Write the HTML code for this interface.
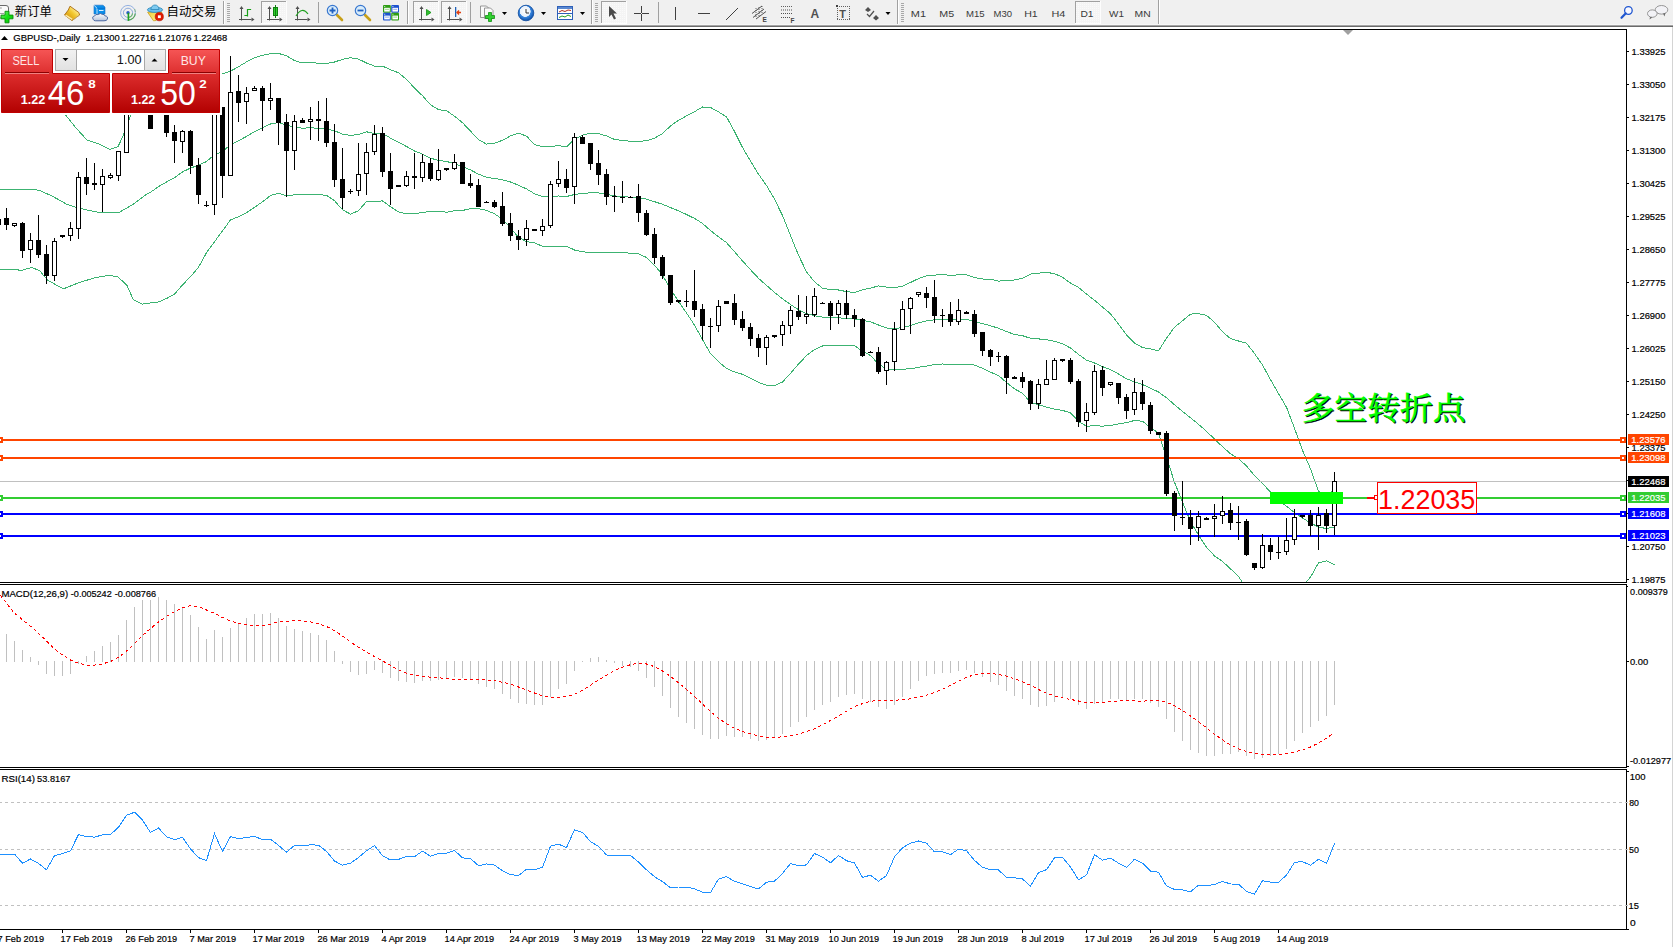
<!DOCTYPE html>
<html><head><meta charset="utf-8"><title>GBPUSD-,Daily</title>
<style>
html,body{margin:0;padding:0;width:1673px;height:947px;overflow:hidden;background:#fff}
svg{display:block}
#chart{position:absolute;left:0;top:0}
#tb{position:absolute;left:0;top:0;width:1673px;height:25px;background:#F0F0F0}
#tbl0{position:absolute;left:0;top:24px;width:1673px;height:1px;background:#F6F6F6}
#tbl1{position:absolute;left:0;top:25px;width:1673px;height:1px;background:#A4A4A4}
#tbl2{position:absolute;left:0;top:26px;width:1673px;height:1px;background:#6A6A6A}
#redge{position:absolute;left:1672px;top:27px;width:1px;height:920px;background:#D4D4D4}
</style></head><body>
<svg id="chart" width="1673" height="947" viewBox="0 0 1673 947">
<rect x="0" y="27" width="1673" height="920" fill="#fff"/>
<defs><clipPath id="cm"><rect x="0" y="30" width="1626" height="552"/></clipPath><clipPath id="cmacd"><rect x="0" y="585" width="1626" height="182"/></clipPath><clipPath id="crsi"><rect x="0" y="770" width="1626" height="159"/></clipPath></defs>
<g clip-path="url(#cm)" stroke="#3CB371" stroke-width="1" shape-rendering="crispEdges"><polyline points="40.0,80.0 52.0,95.0 60.0,106.0 66.0,115.5 76.0,128.0 87.0,140.0 100.0,144.4 110.0,149.5 118.0,146.6 123.3,135.5 131.0,114.4 140.0,95.0 150.5,81.6 158.5,71.2 166.5,65.5 174.5,61.6 182.5,58.9 190.5,59.5 198.5,63.0 206.5,71.1 214.5,68.6 222.5,73.9 230.5,71.2 238.5,66.7 246.5,61.9 254.5,57.6 262.5,55.4 270.5,53.8 278.5,53.4 286.5,55.8 294.5,60.6 302.5,62.9 310.5,62.3 318.5,63.3 326.5,63.5 334.5,62.0 342.5,59.4 350.5,57.7 358.5,59.1 366.5,63.0 374.5,66.1 382.5,66.1 390.5,69.7 398.5,72.8 406.5,79.3 414.5,88.1 422.5,95.7 430.5,104.8 438.5,109.6 446.5,110.7 454.5,116.2 462.5,122.7 470.5,131.1 478.5,139.7 486.5,144.1 494.5,143.2 502.5,140.3 510.5,135.9 518.5,133.2 526.5,136.1 534.5,144.6 542.5,146.7 550.5,146.4 558.5,145.7 566.5,146.8 574.5,139.0 582.5,135.2 590.5,133.2 598.5,133.6 606.5,135.9 614.5,139.4 622.5,140.4 630.5,141.3 638.5,141.3 646.5,140.8 654.5,138.2 662.5,133.6 670.5,125.9 678.5,120.3 686.5,115.9 694.5,111.7 702.5,107.0 710.5,107.4 718.5,111.9 726.5,116.8 734.5,131.5 742.5,147.5 750.5,161.0 758.5,174.2 766.5,185.5 774.5,199.1 782.5,215.6 790.5,235.6 798.5,255.2 806.5,271.8 814.5,281.8 822.5,288.2 830.5,289.6 838.5,290.0 846.5,291.6 854.5,292.5 862.5,289.7 870.5,288.1 878.5,285.9 886.5,287.1 894.5,287.9 902.5,286.1 910.5,282.5 918.5,278.6 926.5,275.7 934.5,275.1 942.5,274.6 950.5,275.3 958.5,274.9 966.5,274.8 974.5,277.6 982.5,279.0 990.5,279.2 998.5,281.2 1006.5,280.4 1014.5,280.0 1022.5,278.3 1030.5,274.1 1038.5,273.2 1046.5,272.4 1054.5,273.6 1062.5,277.3 1070.5,283.1 1078.5,287.4 1086.5,294.1 1094.5,300.2 1102.5,307.1 1110.5,313.8 1118.5,324.0 1126.5,335.0 1134.5,343.1 1142.5,347.6 1150.5,348.9 1158.5,350.9 1166.5,338.3 1174.5,327.2 1182.5,320.8 1190.5,314.1 1198.5,313.6 1206.5,315.3 1214.5,322.3 1222.5,331.8 1230.5,338.6 1238.5,341.0 1246.5,343.2 1254.5,353.5 1262.5,365.0 1270.5,379.6 1278.5,393.6 1286.5,407.2 1294.5,428.3 1302.5,450.4 1310.5,468.8 1318.5,491.1 1326.5,496.2 1334.5,488.9" fill="none" /><polyline points="-3.0,189.1 0.0,189.1 31.7,189.1 39.6,190.4 52.0,196.0 66.5,204.1 76.0,207.3 85.5,209.7 100.0,212.5 118.9,212.5 133.3,204.3 146.6,194.3 150.5,192.3 158.5,186.6 166.5,182.0 174.5,177.8 182.5,171.9 190.5,168.1 198.5,165.1 206.5,161.6 214.5,154.6 222.5,151.5 230.5,144.7 238.5,140.9 246.5,136.4 254.5,131.7 262.5,127.8 270.5,124.0 278.5,122.5 286.5,125.1 294.5,127.1 302.5,128.2 310.5,127.8 318.5,128.3 326.5,128.8 334.5,130.8 342.5,134.1 350.5,135.5 358.5,134.5 366.5,131.8 374.5,133.5 382.5,133.3 390.5,138.1 398.5,142.3 406.5,146.5 414.5,151.0 422.5,154.1 430.5,158.1 438.5,160.5 446.5,161.5 454.5,163.5 462.5,166.6 470.5,169.9 478.5,174.2 486.5,177.2 494.5,178.5 502.5,179.8 510.5,182.0 518.5,185.2 526.5,188.9 534.5,193.7 542.5,196.5 550.5,196.3 558.5,196.0 566.5,196.5 574.5,194.5 582.5,193.5 590.5,192.8 598.5,192.9 606.5,194.2 614.5,195.9 622.5,196.6 630.5,197.2 638.5,197.5 646.5,199.1 654.5,201.7 662.5,204.3 670.5,207.6 678.5,210.8 686.5,214.5 694.5,218.4 702.5,223.4 710.5,230.5 718.5,236.8 726.5,242.6 734.5,251.7 742.5,260.9 750.5,269.7 758.5,278.3 766.5,285.4 774.5,292.4 782.5,298.8 790.5,304.5 798.5,309.7 806.5,313.7 814.5,315.7 822.5,317.1 830.5,317.7 838.5,317.8 846.5,318.5 854.5,319.0 862.5,320.5 870.5,321.8 878.5,325.0 886.5,328.0 894.5,328.5 902.5,327.6 910.5,325.6 918.5,322.9 926.5,320.9 934.5,319.8 942.5,319.3 950.5,319.8 958.5,319.6 966.5,319.5 974.5,321.3 982.5,323.7 990.5,325.7 998.5,328.3 1006.5,331.5 1014.5,334.5 1022.5,335.7 1030.5,338.3 1038.5,338.9 1046.5,339.8 1054.5,341.3 1062.5,343.8 1070.5,348.0 1078.5,354.4 1086.5,360.2 1094.5,363.0 1102.5,366.6 1110.5,369.7 1118.5,374.0 1126.5,378.8 1134.5,381.8 1142.5,384.5 1150.5,388.2 1158.5,392.0 1166.5,397.8 1174.5,404.7 1182.5,411.5 1190.5,417.7 1198.5,424.3 1206.5,431.3 1214.5,439.1 1222.5,446.7 1230.5,453.7 1238.5,458.7 1246.5,465.9 1254.5,475.6 1262.5,483.6 1270.5,492.0 1278.5,499.8 1286.5,506.3 1294.5,512.5 1302.5,518.1 1310.5,522.9 1318.5,527.0 1326.5,528.6 1334.5,526.9" fill="none" /><polyline points="-3.0,269.0 0.0,269.0 22.2,270.2 31.7,267.5 39.6,270.6 47.5,280.1 63.3,288.9 79.2,282.5 95.0,277.8 108.9,275.3 117.8,276.9 126.7,284.9 133.3,299.7 142.2,304.1 150.5,303.0 158.5,302.0 166.5,298.5 174.5,294.1 182.5,284.9 190.5,276.7 198.5,267.3 206.5,252.7 214.5,241.7 222.5,231.0 230.5,219.9 238.5,216.8 246.5,212.6 254.5,207.3 262.5,201.8 270.5,195.6 278.5,193.1 286.5,195.7 294.5,194.9 302.5,194.8 310.5,194.5 318.5,194.6 326.5,195.3 334.5,200.7 342.5,209.8 350.5,214.1 358.5,210.7 366.5,201.5 374.5,201.6 382.5,200.9 390.5,206.8 398.5,211.9 406.5,213.7 414.5,213.8 422.5,212.5 430.5,211.3 438.5,211.3 446.5,212.2 454.5,210.8 462.5,210.5 470.5,208.6 478.5,208.6 486.5,210.3 494.5,213.8 502.5,219.2 510.5,228.0 518.5,237.2 526.5,241.7 534.5,242.9 542.5,246.3 550.5,246.3 558.5,246.3 566.5,246.2 574.5,250.0 582.5,251.9 590.5,252.3 598.5,252.2 606.5,252.6 614.5,252.4 622.5,252.8 630.5,253.1 638.5,253.7 646.5,257.5 654.5,265.2 662.5,274.9 670.5,289.4 678.5,301.3 686.5,313.0 694.5,325.1 702.5,339.7 710.5,353.5 718.5,361.7 726.5,368.5 734.5,371.9 742.5,374.3 750.5,378.3 758.5,382.4 766.5,385.3 774.5,385.7 782.5,382.0 790.5,373.4 798.5,364.1 806.5,355.6 814.5,349.5 822.5,346.0 830.5,345.8 838.5,345.7 846.5,345.4 854.5,345.5 862.5,351.3 870.5,355.5 878.5,364.1 886.5,368.9 894.5,369.2 902.5,369.2 910.5,368.8 918.5,367.3 926.5,366.1 934.5,364.6 942.5,364.0 950.5,364.4 958.5,364.2 966.5,364.2 974.5,365.1 982.5,368.3 990.5,372.2 998.5,375.5 1006.5,382.5 1014.5,388.9 1022.5,393.2 1030.5,402.4 1038.5,404.7 1046.5,407.1 1054.5,409.1 1062.5,410.4 1070.5,412.9 1078.5,421.4 1086.5,426.2 1094.5,425.8 1102.5,426.1 1110.5,425.6 1118.5,423.9 1126.5,422.6 1134.5,420.5 1142.5,421.3 1150.5,427.5 1158.5,433.2 1166.5,457.4 1174.5,482.2 1182.5,502.2 1190.5,521.4 1198.5,535.1 1206.5,547.2 1214.5,555.9 1222.5,561.5 1230.5,568.8 1238.5,576.5 1246.5,588.5 1254.5,597.8 1262.5,602.1 1270.5,604.4 1278.5,606.0 1286.5,605.4 1294.5,596.7 1302.5,585.9 1310.5,577.1 1318.5,562.9 1326.5,560.9 1334.5,564.9" fill="none" /></g>
<rect x="0" y="481" width="1626" height="1" fill="#C0C0C0"/>
<rect x="0" y="439" width="1627" height="2" fill="#FF4500"/>
<rect x="1620" y="437" width="6" height="6" fill="#FF4500"/><rect x="1622" y="439" width="2" height="2" fill="#fff"/>
<rect x="-3" y="437" width="6" height="6" fill="#FF4500"/><rect x="-1" y="439" width="2" height="2" fill="#fff"/>
<rect x="0" y="457" width="1627" height="2" fill="#FF4500"/>
<rect x="1620" y="455" width="6" height="6" fill="#FF4500"/><rect x="1622" y="457" width="2" height="2" fill="#fff"/>
<rect x="-3" y="455" width="6" height="6" fill="#FF4500"/><rect x="-1" y="457" width="2" height="2" fill="#fff"/>
<rect x="0" y="497" width="1627" height="2" fill="#32CD32"/>
<rect x="1620" y="495" width="6" height="6" fill="#32CD32"/><rect x="1622" y="497" width="2" height="2" fill="#fff"/>
<rect x="-3" y="495" width="6" height="6" fill="#32CD32"/><rect x="-1" y="497" width="2" height="2" fill="#fff"/>
<rect x="0" y="513" width="1627" height="2" fill="#0000FF"/>
<rect x="1620" y="511" width="6" height="6" fill="#0000FF"/><rect x="1622" y="513" width="2" height="2" fill="#fff"/>
<rect x="-3" y="511" width="6" height="6" fill="#0000FF"/><rect x="-1" y="513" width="2" height="2" fill="#fff"/>
<rect x="0" y="535" width="1627" height="2" fill="#0000FF"/>
<rect x="1620" y="533" width="6" height="6" fill="#0000FF"/><rect x="1622" y="535" width="2" height="2" fill="#fff"/>
<rect x="-3" y="533" width="6" height="6" fill="#0000FF"/><rect x="-1" y="535" width="2" height="2" fill="#fff"/>
<g clip-path="url(#cm)" shape-rendering="crispEdges"><rect x="-2" y="214" width="1" height="14" fill="#000"/><rect x="-4" y="219" width="5" height="6" fill="#000"/><rect x="6" y="208" width="1" height="22" fill="#000"/><rect x="4" y="218" width="5" height="7" fill="#000"/><rect x="14" y="226" width="1" height="1" fill="#000"/><rect x="12" y="223" width="5" height="3" fill="#000"/><rect x="13" y="224" width="3" height="1" fill="#fff"/><rect x="22" y="222" width="1" height="36" fill="#000"/><rect x="20" y="223" width="5" height="28" fill="#000"/><rect x="30" y="233" width="1" height="7" fill="#000"/><rect x="30" y="250" width="1" height="13" fill="#000"/><rect x="28" y="240" width="5" height="10" fill="#000"/><rect x="29" y="241" width="3" height="8" fill="#fff"/><rect x="38" y="215" width="1" height="43" fill="#000"/><rect x="36" y="240" width="5" height="15" fill="#000"/><rect x="46" y="245" width="1" height="39" fill="#000"/><rect x="44" y="254" width="5" height="22" fill="#000"/><rect x="54" y="238" width="1" height="3" fill="#000"/><rect x="54" y="276" width="1" height="5" fill="#000"/><rect x="52" y="241" width="5" height="35" fill="#000"/><rect x="53" y="242" width="3" height="33" fill="#fff"/><rect x="62" y="235" width="1" height="3" fill="#000"/><rect x="60" y="235" width="5" height="2" fill="#000"/><rect x="70" y="222" width="1" height="6" fill="#000"/><rect x="70" y="236" width="1" height="5" fill="#000"/><rect x="68" y="228" width="5" height="8" fill="#000"/><rect x="69" y="229" width="3" height="6" fill="#fff"/><rect x="78" y="172" width="1" height="5" fill="#000"/><rect x="78" y="229" width="1" height="10" fill="#000"/><rect x="76" y="177" width="5" height="52" fill="#000"/><rect x="77" y="178" width="3" height="50" fill="#fff"/><rect x="86" y="158" width="1" height="37" fill="#000"/><rect x="84" y="177" width="5" height="7" fill="#000"/><rect x="94" y="163" width="1" height="27" fill="#000"/><rect x="92" y="183" width="5" height="2" fill="#000"/><rect x="102" y="169" width="1" height="7" fill="#000"/><rect x="102" y="185" width="1" height="27" fill="#000"/><rect x="100" y="176" width="5" height="9" fill="#000"/><rect x="101" y="177" width="3" height="7" fill="#fff"/><rect x="110" y="173" width="1" height="2" fill="#000"/><rect x="110" y="178" width="1" height="1" fill="#000"/><rect x="108" y="175" width="5" height="3" fill="#000"/><rect x="109" y="176" width="3" height="1" fill="#fff"/><rect x="118" y="176" width="1" height="5" fill="#000"/><rect x="116" y="151" width="5" height="25" fill="#000"/><rect x="117" y="152" width="3" height="23" fill="#fff"/><rect x="126" y="95" width="1" height="4" fill="#000"/><rect x="124" y="99" width="5" height="54" fill="#000"/><rect x="125" y="100" width="3" height="52" fill="#fff"/><rect x="134" y="78" width="1" height="4" fill="#000"/><rect x="134" y="99" width="1" height="1" fill="#000"/><rect x="132" y="82" width="5" height="17" fill="#000"/><rect x="133" y="83" width="3" height="15" fill="#fff"/><rect x="142" y="79" width="1" height="23" fill="#000"/><rect x="140" y="82" width="5" height="18" fill="#000"/><rect x="150" y="97" width="1" height="32" fill="#000"/><rect x="148" y="100" width="5" height="29" fill="#000"/><rect x="158" y="100" width="1" height="9" fill="#000"/><rect x="158" y="113" width="1" height="1" fill="#000"/><rect x="156" y="109" width="5" height="4" fill="#000"/><rect x="157" y="110" width="3" height="2" fill="#fff"/><rect x="166" y="104" width="1" height="33" fill="#000"/><rect x="164" y="109" width="5" height="24" fill="#000"/><rect x="174" y="125" width="1" height="38" fill="#000"/><rect x="172" y="132" width="5" height="9" fill="#000"/><rect x="182" y="130" width="1" height="1" fill="#000"/><rect x="182" y="142" width="1" height="11" fill="#000"/><rect x="180" y="131" width="5" height="11" fill="#000"/><rect x="181" y="132" width="3" height="9" fill="#fff"/><rect x="190" y="130" width="1" height="44" fill="#000"/><rect x="188" y="131" width="5" height="35" fill="#000"/><rect x="198" y="158" width="1" height="46" fill="#000"/><rect x="196" y="165" width="5" height="30" fill="#000"/><rect x="206" y="201" width="1" height="6" fill="#000"/><rect x="204" y="205" width="5" height="1" fill="#000"/><rect x="214" y="205" width="1" height="10" fill="#000"/><rect x="212" y="100" width="5" height="105" fill="#000"/><rect x="213" y="101" width="3" height="103" fill="#fff"/><rect x="222" y="107" width="1" height="91" fill="#000"/><rect x="220" y="107" width="5" height="69" fill="#000"/><rect x="230" y="56" width="1" height="36" fill="#000"/><rect x="228" y="92" width="5" height="84" fill="#000"/><rect x="229" y="93" width="3" height="82" fill="#fff"/><rect x="238" y="75" width="1" height="47" fill="#000"/><rect x="236" y="91" width="5" height="12" fill="#000"/><rect x="246" y="87" width="1" height="6" fill="#000"/><rect x="246" y="102" width="1" height="22" fill="#000"/><rect x="244" y="93" width="5" height="9" fill="#000"/><rect x="245" y="94" width="3" height="7" fill="#fff"/><rect x="254" y="86" width="1" height="2" fill="#000"/><rect x="252" y="88" width="5" height="3" fill="#000"/><rect x="253" y="89" width="3" height="1" fill="#fff"/><rect x="262" y="86" width="1" height="45" fill="#000"/><rect x="260" y="88" width="5" height="13" fill="#000"/><rect x="270" y="83" width="1" height="15" fill="#000"/><rect x="270" y="101" width="1" height="9" fill="#000"/><rect x="268" y="98" width="5" height="3" fill="#000"/><rect x="269" y="99" width="3" height="1" fill="#fff"/><rect x="278" y="98" width="1" height="47" fill="#000"/><rect x="276" y="98" width="5" height="25" fill="#000"/><rect x="286" y="114" width="1" height="83" fill="#000"/><rect x="284" y="122" width="5" height="29" fill="#000"/><rect x="294" y="115" width="1" height="6" fill="#000"/><rect x="294" y="151" width="1" height="19" fill="#000"/><rect x="292" y="121" width="5" height="30" fill="#000"/><rect x="293" y="122" width="3" height="28" fill="#fff"/><rect x="302" y="118" width="1" height="5" fill="#000"/><rect x="300" y="120" width="5" height="3" fill="#000"/><rect x="310" y="107" width="1" height="12" fill="#000"/><rect x="310" y="122" width="1" height="18" fill="#000"/><rect x="308" y="119" width="5" height="3" fill="#000"/><rect x="309" y="120" width="3" height="1" fill="#fff"/><rect x="318" y="101" width="1" height="40" fill="#000"/><rect x="316" y="119" width="5" height="2" fill="#000"/><rect x="326" y="98" width="1" height="49" fill="#000"/><rect x="324" y="121" width="5" height="22" fill="#000"/><rect x="334" y="124" width="1" height="63" fill="#000"/><rect x="332" y="142" width="5" height="38" fill="#000"/><rect x="342" y="148" width="1" height="61" fill="#000"/><rect x="340" y="179" width="5" height="19" fill="#000"/><rect x="350" y="189" width="1" height="5" fill="#000"/><rect x="348" y="191" width="5" height="1" fill="#000"/><rect x="358" y="143" width="1" height="31" fill="#000"/><rect x="358" y="191" width="1" height="5" fill="#000"/><rect x="356" y="174" width="5" height="17" fill="#000"/><rect x="357" y="175" width="3" height="15" fill="#fff"/><rect x="366" y="143" width="1" height="9" fill="#000"/><rect x="366" y="174" width="1" height="21" fill="#000"/><rect x="364" y="152" width="5" height="22" fill="#000"/><rect x="365" y="153" width="3" height="20" fill="#fff"/><rect x="374" y="125" width="1" height="9" fill="#000"/><rect x="374" y="152" width="1" height="3" fill="#000"/><rect x="372" y="134" width="5" height="18" fill="#000"/><rect x="373" y="135" width="3" height="16" fill="#fff"/><rect x="382" y="127" width="1" height="50" fill="#000"/><rect x="380" y="133" width="5" height="39" fill="#000"/><rect x="390" y="153" width="1" height="52" fill="#000"/><rect x="388" y="171" width="5" height="18" fill="#000"/><rect x="398" y="185" width="1" height="2" fill="#000"/><rect x="396" y="185" width="5" height="2" fill="#000"/><rect x="406" y="171" width="1" height="5" fill="#000"/><rect x="406" y="186" width="1" height="1" fill="#000"/><rect x="404" y="176" width="5" height="10" fill="#000"/><rect x="405" y="177" width="3" height="8" fill="#fff"/><rect x="414" y="153" width="1" height="36" fill="#000"/><rect x="412" y="176" width="5" height="2" fill="#000"/><rect x="422" y="154" width="1" height="8" fill="#000"/><rect x="422" y="178" width="1" height="4" fill="#000"/><rect x="420" y="162" width="5" height="16" fill="#000"/><rect x="421" y="163" width="3" height="14" fill="#fff"/><rect x="430" y="158" width="1" height="23" fill="#000"/><rect x="428" y="163" width="5" height="16" fill="#000"/><rect x="438" y="149" width="1" height="21" fill="#000"/><rect x="438" y="180" width="1" height="1" fill="#000"/><rect x="436" y="170" width="5" height="10" fill="#000"/><rect x="437" y="171" width="3" height="8" fill="#fff"/><rect x="446" y="168" width="1" height="3" fill="#000"/><rect x="444" y="168" width="5" height="2" fill="#000"/><rect x="454" y="154" width="1" height="8" fill="#000"/><rect x="454" y="169" width="1" height="1" fill="#000"/><rect x="452" y="162" width="5" height="7" fill="#000"/><rect x="453" y="163" width="3" height="5" fill="#fff"/><rect x="462" y="162" width="1" height="22" fill="#000"/><rect x="460" y="162" width="5" height="22" fill="#000"/><rect x="470" y="174" width="1" height="14" fill="#000"/><rect x="468" y="183" width="5" height="3" fill="#000"/><rect x="478" y="179" width="1" height="28" fill="#000"/><rect x="476" y="185" width="5" height="22" fill="#000"/><rect x="486" y="201" width="1" height="2" fill="#000"/><rect x="484" y="202" width="5" height="1" fill="#000"/><rect x="494" y="200" width="1" height="8" fill="#000"/><rect x="492" y="202" width="5" height="5" fill="#000"/><rect x="502" y="192" width="1" height="34" fill="#000"/><rect x="500" y="206" width="5" height="18" fill="#000"/><rect x="510" y="213" width="1" height="28" fill="#000"/><rect x="508" y="223" width="5" height="13" fill="#000"/><rect x="518" y="230" width="1" height="20" fill="#000"/><rect x="516" y="236" width="5" height="4" fill="#000"/><rect x="526" y="220" width="1" height="8" fill="#000"/><rect x="526" y="240" width="1" height="6" fill="#000"/><rect x="524" y="228" width="5" height="12" fill="#000"/><rect x="525" y="229" width="3" height="10" fill="#fff"/><rect x="534" y="229" width="1" height="2" fill="#000"/><rect x="532" y="229" width="5" height="2" fill="#000"/><rect x="542" y="219" width="1" height="7" fill="#000"/><rect x="542" y="231" width="1" height="5" fill="#000"/><rect x="540" y="226" width="5" height="5" fill="#000"/><rect x="541" y="227" width="3" height="3" fill="#fff"/><rect x="550" y="181" width="1" height="3" fill="#000"/><rect x="550" y="226" width="1" height="2" fill="#000"/><rect x="548" y="184" width="5" height="42" fill="#000"/><rect x="549" y="185" width="3" height="40" fill="#fff"/><rect x="558" y="161" width="1" height="18" fill="#000"/><rect x="558" y="184" width="1" height="3" fill="#000"/><rect x="556" y="179" width="5" height="5" fill="#000"/><rect x="557" y="180" width="3" height="3" fill="#fff"/><rect x="566" y="169" width="1" height="24" fill="#000"/><rect x="564" y="179" width="5" height="9" fill="#000"/><rect x="574" y="133" width="1" height="4" fill="#000"/><rect x="574" y="187" width="1" height="17" fill="#000"/><rect x="572" y="137" width="5" height="50" fill="#000"/><rect x="573" y="138" width="3" height="48" fill="#fff"/><rect x="582" y="135" width="1" height="9" fill="#000"/><rect x="580" y="137" width="5" height="7" fill="#000"/><rect x="590" y="143" width="1" height="27" fill="#000"/><rect x="588" y="143" width="5" height="21" fill="#000"/><rect x="598" y="150" width="1" height="35" fill="#000"/><rect x="596" y="163" width="5" height="12" fill="#000"/><rect x="606" y="169" width="1" height="36" fill="#000"/><rect x="604" y="174" width="5" height="23" fill="#000"/><rect x="614" y="186" width="1" height="26" fill="#000"/><rect x="612" y="196" width="5" height="1" fill="#000"/><rect x="622" y="181" width="1" height="22" fill="#000"/><rect x="620" y="197" width="5" height="1" fill="#000"/><rect x="630" y="196" width="1" height="2" fill="#000"/><rect x="628" y="197" width="5" height="1" fill="#000"/><rect x="638" y="184" width="1" height="38" fill="#000"/><rect x="636" y="196" width="5" height="17" fill="#000"/><rect x="646" y="210" width="1" height="26" fill="#000"/><rect x="644" y="213" width="5" height="22" fill="#000"/><rect x="654" y="228" width="1" height="36" fill="#000"/><rect x="652" y="234" width="5" height="24" fill="#000"/><rect x="662" y="255" width="1" height="24" fill="#000"/><rect x="660" y="257" width="5" height="19" fill="#000"/><rect x="670" y="275" width="1" height="30" fill="#000"/><rect x="668" y="275" width="5" height="28" fill="#000"/><rect x="678" y="300" width="1" height="3" fill="#000"/><rect x="676" y="300" width="5" height="2" fill="#000"/><rect x="686" y="290" width="1" height="17" fill="#000"/><rect x="684" y="301" width="5" height="1" fill="#000"/><rect x="694" y="270" width="1" height="47" fill="#000"/><rect x="692" y="301" width="5" height="9" fill="#000"/><rect x="702" y="304" width="1" height="36" fill="#000"/><rect x="700" y="309" width="5" height="17" fill="#000"/><rect x="710" y="318" width="1" height="30" fill="#000"/><rect x="708" y="326" width="5" height="1" fill="#000"/><rect x="718" y="300" width="1" height="6" fill="#000"/><rect x="718" y="326" width="1" height="6" fill="#000"/><rect x="716" y="306" width="5" height="20" fill="#000"/><rect x="717" y="307" width="3" height="18" fill="#fff"/><rect x="726" y="301" width="1" height="3" fill="#000"/><rect x="724" y="301" width="5" height="3" fill="#000"/><rect x="734" y="294" width="1" height="31" fill="#000"/><rect x="732" y="303" width="5" height="17" fill="#000"/><rect x="742" y="311" width="1" height="20" fill="#000"/><rect x="740" y="319" width="5" height="9" fill="#000"/><rect x="750" y="323" width="1" height="23" fill="#000"/><rect x="748" y="327" width="5" height="12" fill="#000"/><rect x="758" y="334" width="1" height="23" fill="#000"/><rect x="756" y="338" width="5" height="10" fill="#000"/><rect x="766" y="335" width="1" height="2" fill="#000"/><rect x="766" y="348" width="1" height="17" fill="#000"/><rect x="764" y="337" width="5" height="11" fill="#000"/><rect x="765" y="338" width="3" height="9" fill="#fff"/><rect x="774" y="335" width="1" height="3" fill="#000"/><rect x="772" y="335" width="5" height="2" fill="#000"/><rect x="782" y="321" width="1" height="4" fill="#000"/><rect x="782" y="335" width="1" height="11" fill="#000"/><rect x="780" y="325" width="5" height="10" fill="#000"/><rect x="781" y="326" width="3" height="8" fill="#fff"/><rect x="790" y="306" width="1" height="4" fill="#000"/><rect x="790" y="326" width="1" height="8" fill="#000"/><rect x="788" y="310" width="5" height="16" fill="#000"/><rect x="789" y="311" width="3" height="14" fill="#fff"/><rect x="798" y="295" width="1" height="25" fill="#000"/><rect x="796" y="311" width="5" height="6" fill="#000"/><rect x="806" y="296" width="1" height="18" fill="#000"/><rect x="806" y="317" width="1" height="7" fill="#000"/><rect x="804" y="314" width="5" height="3" fill="#000"/><rect x="805" y="315" width="3" height="1" fill="#fff"/><rect x="814" y="288" width="1" height="8" fill="#000"/><rect x="814" y="315" width="1" height="2" fill="#000"/><rect x="812" y="296" width="5" height="19" fill="#000"/><rect x="813" y="297" width="3" height="17" fill="#fff"/><rect x="822" y="302" width="1" height="2" fill="#000"/><rect x="820" y="303" width="5" height="1" fill="#000"/><rect x="830" y="301" width="1" height="29" fill="#000"/><rect x="828" y="303" width="5" height="13" fill="#000"/><rect x="838" y="300" width="1" height="3" fill="#000"/><rect x="838" y="315" width="1" height="9" fill="#000"/><rect x="836" y="303" width="5" height="12" fill="#000"/><rect x="837" y="304" width="3" height="10" fill="#fff"/><rect x="846" y="290" width="1" height="29" fill="#000"/><rect x="844" y="303" width="5" height="12" fill="#000"/><rect x="854" y="309" width="1" height="18" fill="#000"/><rect x="852" y="315" width="5" height="4" fill="#000"/><rect x="862" y="318" width="1" height="39" fill="#000"/><rect x="860" y="319" width="5" height="37" fill="#000"/><rect x="870" y="351" width="1" height="2" fill="#000"/><rect x="868" y="352" width="5" height="1" fill="#000"/><rect x="878" y="347" width="1" height="27" fill="#000"/><rect x="876" y="352" width="5" height="20" fill="#000"/><rect x="886" y="361" width="1" height="1" fill="#000"/><rect x="886" y="371" width="1" height="14" fill="#000"/><rect x="884" y="362" width="5" height="9" fill="#000"/><rect x="885" y="363" width="3" height="7" fill="#fff"/><rect x="894" y="322" width="1" height="7" fill="#000"/><rect x="894" y="362" width="1" height="9" fill="#000"/><rect x="892" y="329" width="5" height="33" fill="#000"/><rect x="893" y="330" width="3" height="31" fill="#fff"/><rect x="902" y="301" width="1" height="8" fill="#000"/><rect x="900" y="309" width="5" height="21" fill="#000"/><rect x="901" y="310" width="3" height="19" fill="#fff"/><rect x="910" y="297" width="1" height="1" fill="#000"/><rect x="910" y="309" width="1" height="25" fill="#000"/><rect x="908" y="298" width="5" height="11" fill="#000"/><rect x="909" y="299" width="3" height="9" fill="#fff"/><rect x="918" y="295" width="1" height="2" fill="#000"/><rect x="916" y="292" width="5" height="3" fill="#000"/><rect x="917" y="293" width="3" height="1" fill="#fff"/><rect x="926" y="287" width="1" height="21" fill="#000"/><rect x="924" y="293" width="5" height="5" fill="#000"/><rect x="934" y="280" width="1" height="43" fill="#000"/><rect x="932" y="297" width="5" height="19" fill="#000"/><rect x="942" y="309" width="1" height="18" fill="#000"/><rect x="940" y="315" width="5" height="1" fill="#000"/><rect x="950" y="302" width="1" height="24" fill="#000"/><rect x="948" y="314" width="5" height="8" fill="#000"/><rect x="958" y="299" width="1" height="11" fill="#000"/><rect x="958" y="322" width="1" height="3" fill="#000"/><rect x="956" y="310" width="5" height="12" fill="#000"/><rect x="957" y="311" width="3" height="10" fill="#fff"/><rect x="966" y="311" width="1" height="3" fill="#000"/><rect x="964" y="312" width="5" height="2" fill="#000"/><rect x="974" y="310" width="1" height="27" fill="#000"/><rect x="972" y="314" width="5" height="20" fill="#000"/><rect x="982" y="332" width="1" height="24" fill="#000"/><rect x="980" y="332" width="5" height="19" fill="#000"/><rect x="990" y="349" width="1" height="17" fill="#000"/><rect x="988" y="350" width="5" height="7" fill="#000"/><rect x="998" y="352" width="1" height="10" fill="#000"/><rect x="996" y="356" width="5" height="1" fill="#000"/><rect x="1006" y="355" width="1" height="39" fill="#000"/><rect x="1004" y="356" width="5" height="22" fill="#000"/><rect x="1014" y="376" width="1" height="3" fill="#000"/><rect x="1012" y="377" width="5" height="2" fill="#000"/><rect x="1022" y="372" width="1" height="16" fill="#000"/><rect x="1020" y="377" width="5" height="5" fill="#000"/><rect x="1030" y="380" width="1" height="30" fill="#000"/><rect x="1028" y="381" width="5" height="23" fill="#000"/><rect x="1038" y="379" width="1" height="5" fill="#000"/><rect x="1038" y="404" width="1" height="5" fill="#000"/><rect x="1036" y="384" width="5" height="20" fill="#000"/><rect x="1037" y="385" width="3" height="18" fill="#fff"/><rect x="1046" y="360" width="1" height="19" fill="#000"/><rect x="1044" y="379" width="5" height="6" fill="#000"/><rect x="1045" y="380" width="3" height="4" fill="#fff"/><rect x="1054" y="358" width="1" height="2" fill="#000"/><rect x="1052" y="360" width="5" height="20" fill="#000"/><rect x="1053" y="361" width="3" height="18" fill="#fff"/><rect x="1062" y="359" width="1" height="3" fill="#000"/><rect x="1060" y="359" width="5" height="2" fill="#000"/><rect x="1070" y="358" width="1" height="26" fill="#000"/><rect x="1068" y="360" width="5" height="22" fill="#000"/><rect x="1078" y="379" width="1" height="48" fill="#000"/><rect x="1076" y="381" width="5" height="41" fill="#000"/><rect x="1086" y="403" width="1" height="9" fill="#000"/><rect x="1086" y="421" width="1" height="11" fill="#000"/><rect x="1084" y="412" width="5" height="9" fill="#000"/><rect x="1085" y="413" width="3" height="7" fill="#fff"/><rect x="1094" y="365" width="1" height="6" fill="#000"/><rect x="1094" y="413" width="1" height="2" fill="#000"/><rect x="1092" y="371" width="5" height="42" fill="#000"/><rect x="1093" y="372" width="3" height="40" fill="#fff"/><rect x="1102" y="366" width="1" height="30" fill="#000"/><rect x="1100" y="370" width="5" height="18" fill="#000"/><rect x="1110" y="385" width="1" height="1" fill="#000"/><rect x="1108" y="382" width="5" height="3" fill="#000"/><rect x="1109" y="383" width="3" height="1" fill="#fff"/><rect x="1118" y="383" width="1" height="21" fill="#000"/><rect x="1116" y="383" width="5" height="15" fill="#000"/><rect x="1126" y="394" width="1" height="25" fill="#000"/><rect x="1124" y="397" width="5" height="14" fill="#000"/><rect x="1134" y="378" width="1" height="14" fill="#000"/><rect x="1134" y="410" width="1" height="5" fill="#000"/><rect x="1132" y="392" width="5" height="18" fill="#000"/><rect x="1133" y="393" width="3" height="16" fill="#fff"/><rect x="1142" y="380" width="1" height="30" fill="#000"/><rect x="1140" y="392" width="5" height="12" fill="#000"/><rect x="1150" y="402" width="1" height="32" fill="#000"/><rect x="1148" y="405" width="5" height="26" fill="#000"/><rect x="1158" y="432" width="1" height="3" fill="#000"/><rect x="1156" y="432" width="5" height="3" fill="#000"/><rect x="1166" y="431" width="1" height="65" fill="#000"/><rect x="1164" y="433" width="5" height="61" fill="#000"/><rect x="1174" y="491" width="1" height="40" fill="#000"/><rect x="1172" y="493" width="5" height="23" fill="#000"/><rect x="1182" y="481" width="1" height="44" fill="#000"/><rect x="1180" y="517" width="5" height="1" fill="#000"/><rect x="1190" y="510" width="1" height="35" fill="#000"/><rect x="1188" y="517" width="5" height="12" fill="#000"/><rect x="1198" y="511" width="1" height="5" fill="#000"/><rect x="1198" y="528" width="1" height="13" fill="#000"/><rect x="1196" y="516" width="5" height="12" fill="#000"/><rect x="1197" y="517" width="3" height="10" fill="#fff"/><rect x="1206" y="517" width="1" height="3" fill="#000"/><rect x="1204" y="518" width="5" height="2" fill="#000"/><rect x="1214" y="504" width="1" height="12" fill="#000"/><rect x="1214" y="519" width="1" height="18" fill="#000"/><rect x="1212" y="516" width="5" height="3" fill="#000"/><rect x="1213" y="517" width="3" height="1" fill="#fff"/><rect x="1222" y="496" width="1" height="15" fill="#000"/><rect x="1222" y="516" width="1" height="8" fill="#000"/><rect x="1220" y="511" width="5" height="5" fill="#000"/><rect x="1221" y="512" width="3" height="3" fill="#fff"/><rect x="1230" y="503" width="1" height="27" fill="#000"/><rect x="1228" y="510" width="5" height="13" fill="#000"/><rect x="1238" y="506" width="1" height="34" fill="#000"/><rect x="1236" y="522" width="5" height="1" fill="#000"/><rect x="1246" y="519" width="1" height="37" fill="#000"/><rect x="1244" y="521" width="5" height="34" fill="#000"/><rect x="1254" y="563" width="1" height="7" fill="#000"/><rect x="1252" y="563" width="5" height="5" fill="#000"/><rect x="1262" y="534" width="1" height="11" fill="#000"/><rect x="1262" y="568" width="1" height="1" fill="#000"/><rect x="1260" y="545" width="5" height="23" fill="#000"/><rect x="1261" y="546" width="3" height="21" fill="#fff"/><rect x="1270" y="538" width="1" height="22" fill="#000"/><rect x="1268" y="545" width="5" height="7" fill="#000"/><rect x="1278" y="537" width="1" height="22" fill="#000"/><rect x="1276" y="552" width="5" height="1" fill="#000"/><rect x="1286" y="518" width="1" height="22" fill="#000"/><rect x="1286" y="552" width="1" height="3" fill="#000"/><rect x="1284" y="540" width="5" height="12" fill="#000"/><rect x="1285" y="541" width="3" height="10" fill="#fff"/><rect x="1294" y="509" width="1" height="8" fill="#000"/><rect x="1294" y="540" width="1" height="5" fill="#000"/><rect x="1292" y="517" width="5" height="23" fill="#000"/><rect x="1293" y="518" width="3" height="21" fill="#fff"/><rect x="1302" y="515" width="1" height="3" fill="#000"/><rect x="1300" y="515" width="5" height="2" fill="#000"/><rect x="1310" y="510" width="1" height="26" fill="#000"/><rect x="1308" y="515" width="5" height="11" fill="#000"/><rect x="1318" y="507" width="1" height="8" fill="#000"/><rect x="1318" y="526" width="1" height="24" fill="#000"/><rect x="1316" y="515" width="5" height="11" fill="#000"/><rect x="1317" y="516" width="3" height="9" fill="#fff"/><rect x="1326" y="509" width="1" height="24" fill="#000"/><rect x="1324" y="513" width="5" height="13" fill="#000"/><rect x="1334" y="472" width="1" height="9" fill="#000"/><rect x="1334" y="526" width="1" height="9" fill="#000"/><rect x="1332" y="481" width="5" height="45" fill="#000"/><rect x="1333" y="482" width="3" height="43" fill="#fff"/></g>
<rect x="1270" y="492" width="73" height="12" fill="#00FF00"/>
<g shape-rendering="crispEdges" fill="#000"><rect x="0" y="29" width="1627" height="1"/><rect x="0" y="582" width="1627" height="1"/><rect x="0" y="584" width="1627" height="1"/><rect x="0" y="767" width="1627" height="1"/><rect x="0" y="769" width="1627" height="1"/><rect x="0" y="929" width="1627" height="1"/><rect x="1626" y="29" width="1" height="554"/><rect x="1626" y="584" width="1" height="184"/><rect x="1626" y="769" width="1" height="161"/></g>
<g fill="#000"><rect x="1627" y="51" width="2" height="1"/><text x="1631.54" y="55" font-size="9.8" fill="#000" textLength="34.07" lengthAdjust="spacingAndGlyphs" style="font-family:'Liberation Sans',Arial,sans-serif"  stroke="#000" stroke-width="0.2">1.33925</text><rect x="1627" y="84" width="2" height="1"/><text x="1631.54" y="88" font-size="9.8" fill="#000" textLength="34.07" lengthAdjust="spacingAndGlyphs" style="font-family:'Liberation Sans',Arial,sans-serif"  stroke="#000" stroke-width="0.2">1.33050</text><rect x="1627" y="117" width="2" height="1"/><text x="1631.54" y="121" font-size="9.8" fill="#000" textLength="34.07" lengthAdjust="spacingAndGlyphs" style="font-family:'Liberation Sans',Arial,sans-serif"  stroke="#000" stroke-width="0.2">1.32175</text><rect x="1627" y="150" width="2" height="1"/><text x="1631.54" y="154" font-size="9.8" fill="#000" textLength="34.07" lengthAdjust="spacingAndGlyphs" style="font-family:'Liberation Sans',Arial,sans-serif"  stroke="#000" stroke-width="0.2">1.31300</text><rect x="1627" y="183" width="2" height="1"/><text x="1631.54" y="187" font-size="9.8" fill="#000" textLength="34.07" lengthAdjust="spacingAndGlyphs" style="font-family:'Liberation Sans',Arial,sans-serif"  stroke="#000" stroke-width="0.2">1.30425</text><rect x="1627" y="216" width="2" height="1"/><text x="1631.54" y="220" font-size="9.8" fill="#000" textLength="34.07" lengthAdjust="spacingAndGlyphs" style="font-family:'Liberation Sans',Arial,sans-serif"  stroke="#000" stroke-width="0.2">1.29525</text><rect x="1627" y="249" width="2" height="1"/><text x="1631.54" y="253" font-size="9.8" fill="#000" textLength="34.07" lengthAdjust="spacingAndGlyphs" style="font-family:'Liberation Sans',Arial,sans-serif"  stroke="#000" stroke-width="0.2">1.28650</text><rect x="1627" y="282" width="2" height="1"/><text x="1631.54" y="286" font-size="9.8" fill="#000" textLength="34.07" lengthAdjust="spacingAndGlyphs" style="font-family:'Liberation Sans',Arial,sans-serif"  stroke="#000" stroke-width="0.2">1.27775</text><rect x="1627" y="315" width="2" height="1"/><text x="1631.54" y="319" font-size="9.8" fill="#000" textLength="34.07" lengthAdjust="spacingAndGlyphs" style="font-family:'Liberation Sans',Arial,sans-serif"  stroke="#000" stroke-width="0.2">1.26900</text><rect x="1627" y="348" width="2" height="1"/><text x="1631.54" y="352" font-size="9.8" fill="#000" textLength="34.07" lengthAdjust="spacingAndGlyphs" style="font-family:'Liberation Sans',Arial,sans-serif"  stroke="#000" stroke-width="0.2">1.26025</text><rect x="1627" y="381" width="2" height="1"/><text x="1631.54" y="385" font-size="9.8" fill="#000" textLength="34.07" lengthAdjust="spacingAndGlyphs" style="font-family:'Liberation Sans',Arial,sans-serif"  stroke="#000" stroke-width="0.2">1.25150</text><rect x="1627" y="414" width="2" height="1"/><text x="1631.54" y="418" font-size="9.8" fill="#000" textLength="34.07" lengthAdjust="spacingAndGlyphs" style="font-family:'Liberation Sans',Arial,sans-serif"  stroke="#000" stroke-width="0.2">1.24250</text><rect x="1627" y="447" width="2" height="1"/><text x="1631.54" y="451" font-size="9.8" fill="#000" textLength="34.07" lengthAdjust="spacingAndGlyphs" style="font-family:'Liberation Sans',Arial,sans-serif"  stroke="#000" stroke-width="0.2">1.23375</text><rect x="1627" y="480" width="2" height="1"/><text x="1631.54" y="484" font-size="9.8" fill="#000" textLength="34.07" lengthAdjust="spacingAndGlyphs" style="font-family:'Liberation Sans',Arial,sans-serif"  stroke="#000" stroke-width="0.2">1.22500</text><rect x="1627" y="513" width="2" height="1"/><text x="1631.54" y="517" font-size="9.8" fill="#000" textLength="34.07" lengthAdjust="spacingAndGlyphs" style="font-family:'Liberation Sans',Arial,sans-serif"  stroke="#000" stroke-width="0.2">1.21625</text><rect x="1627" y="546" width="2" height="1"/><text x="1631.54" y="550" font-size="9.8" fill="#000" textLength="34.07" lengthAdjust="spacingAndGlyphs" style="font-family:'Liberation Sans',Arial,sans-serif"  stroke="#000" stroke-width="0.2">1.20750</text><rect x="1627" y="579" width="2" height="1"/><text x="1631.54" y="583" font-size="9.8" fill="#000" textLength="34.07" lengthAdjust="spacingAndGlyphs" style="font-family:'Liberation Sans',Arial,sans-serif"  stroke="#000" stroke-width="0.2">1.19875</text></g>
<rect x="1628" y="434" width="41" height="11" fill="#FF4500"/>
<text x="1631.34" y="443.3" font-size="9.8" fill="#fff" textLength="34.07" lengthAdjust="spacingAndGlyphs" style="font-family:'Liberation Sans',Arial,sans-serif"  stroke="#fff" stroke-width="0.2">1.23576</text>
<rect x="1628" y="452" width="41" height="11" fill="#FF4500"/>
<text x="1631.34" y="461.3" font-size="9.8" fill="#fff" textLength="34.07" lengthAdjust="spacingAndGlyphs" style="font-family:'Liberation Sans',Arial,sans-serif"  stroke="#fff" stroke-width="0.2">1.23098</text>
<rect x="1628" y="476" width="41" height="11" fill="#000000"/>
<text x="1631.34" y="484.8" font-size="9.8" fill="#fff" textLength="34.07" lengthAdjust="spacingAndGlyphs" style="font-family:'Liberation Sans',Arial,sans-serif"  stroke="#fff" stroke-width="0.2">1.22468</text>
<rect x="1628" y="492" width="41" height="11" fill="#32CD32"/>
<text x="1631.34" y="501.3" font-size="9.8" fill="#fff" textLength="34.07" lengthAdjust="spacingAndGlyphs" style="font-family:'Liberation Sans',Arial,sans-serif"  stroke="#fff" stroke-width="0.2">1.22035</text>
<rect x="1628" y="508" width="41" height="11" fill="#0000FF"/>
<text x="1631.34" y="517.3" font-size="9.8" fill="#fff" textLength="34.07" lengthAdjust="spacingAndGlyphs" style="font-family:'Liberation Sans',Arial,sans-serif"  stroke="#fff" stroke-width="0.2">1.21608</text>
<rect x="1628" y="530" width="41" height="11" fill="#0000FF"/>
<text x="1631.34" y="539.3" font-size="9.8" fill="#fff" textLength="34.07" lengthAdjust="spacingAndGlyphs" style="font-family:'Liberation Sans',Arial,sans-serif"  stroke="#fff" stroke-width="0.2">1.21023</text>
<polygon points="1343,30 1353,30 1348,35" fill="#A0A0A0"/>
<g clip-path="url(#cmacd)" shape-rendering="crispEdges" fill="#C0C0C0"><rect x="-2" y="626" width="1" height="36"/><rect x="6" y="634" width="1" height="28"/><rect x="14" y="641" width="1" height="21"/><rect x="22" y="650" width="1" height="12"/><rect x="30" y="657" width="1" height="5"/><rect x="38" y="661" width="1" height="4"/><rect x="46" y="661" width="1" height="13"/><rect x="54" y="661" width="1" height="15"/><rect x="62" y="661" width="1" height="15"/><rect x="70" y="661" width="1" height="13"/><rect x="78" y="661" width="1" height="3"/><rect x="86" y="656" width="1" height="6"/><rect x="94" y="651" width="1" height="11"/><rect x="102" y="646" width="1" height="16"/><rect x="110" y="642" width="1" height="20"/><rect x="118" y="635" width="1" height="27"/><rect x="126" y="620" width="1" height="42"/><rect x="134" y="607" width="1" height="55"/><rect x="142" y="600" width="1" height="62"/><rect x="150" y="600" width="1" height="62"/><rect x="158" y="597" width="1" height="65"/><rect x="166" y="600" width="1" height="62"/><rect x="174" y="604" width="1" height="58"/><rect x="182" y="607" width="1" height="55"/><rect x="190" y="615" width="1" height="47"/><rect x="198" y="627" width="1" height="35"/><rect x="206" y="639" width="1" height="23"/><rect x="214" y="630" width="1" height="32"/><rect x="222" y="637" width="1" height="25"/><rect x="230" y="628" width="1" height="34"/><rect x="238" y="623" width="1" height="39"/><rect x="246" y="618" width="1" height="44"/><rect x="254" y="614" width="1" height="48"/><rect x="262" y="614" width="1" height="48"/><rect x="270" y="613" width="1" height="49"/><rect x="278" y="618" width="1" height="44"/><rect x="286" y="626" width="1" height="36"/><rect x="294" y="629" width="1" height="33"/><rect x="302" y="631" width="1" height="31"/><rect x="310" y="633" width="1" height="29"/><rect x="318" y="635" width="1" height="27"/><rect x="326" y="640" width="1" height="22"/><rect x="334" y="651" width="1" height="11"/><rect x="342" y="661" width="1" height="3"/><rect x="350" y="661" width="1" height="11"/><rect x="358" y="661" width="1" height="14"/><rect x="366" y="661" width="1" height="13"/><rect x="374" y="661" width="1" height="9"/><rect x="382" y="661" width="1" height="12"/><rect x="390" y="661" width="1" height="17"/><rect x="398" y="661" width="1" height="20"/><rect x="406" y="661" width="1" height="21"/><rect x="414" y="661" width="1" height="22"/><rect x="422" y="661" width="1" height="20"/><rect x="430" y="661" width="1" height="20"/><rect x="438" y="661" width="1" height="19"/><rect x="446" y="661" width="1" height="18"/><rect x="454" y="661" width="1" height="16"/><rect x="462" y="661" width="1" height="17"/><rect x="470" y="661" width="1" height="19"/><rect x="478" y="661" width="1" height="23"/><rect x="486" y="661" width="1" height="26"/><rect x="494" y="661" width="1" height="28"/><rect x="502" y="661" width="1" height="33"/><rect x="510" y="661" width="1" height="38"/><rect x="518" y="661" width="1" height="42"/><rect x="526" y="661" width="1" height="43"/><rect x="534" y="661" width="1" height="44"/><rect x="542" y="661" width="1" height="44"/><rect x="550" y="661" width="1" height="36"/><rect x="558" y="661" width="1" height="28"/><rect x="566" y="661" width="1" height="23"/><rect x="574" y="661" width="1" height="10"/><rect x="582" y="661" width="1" height="1"/><rect x="590" y="658" width="1" height="4"/><rect x="598" y="657" width="1" height="5"/><rect x="606" y="660" width="1" height="2"/><rect x="614" y="661" width="1" height="2"/><rect x="622" y="661" width="1" height="5"/><rect x="630" y="661" width="1" height="6"/><rect x="638" y="661" width="1" height="10"/><rect x="646" y="661" width="1" height="17"/><rect x="654" y="661" width="1" height="26"/><rect x="662" y="661" width="1" height="35"/><rect x="670" y="661" width="1" height="47"/><rect x="678" y="661" width="1" height="56"/><rect x="686" y="661" width="1" height="62"/><rect x="694" y="661" width="1" height="68"/><rect x="702" y="661" width="1" height="74"/><rect x="710" y="661" width="1" height="78"/><rect x="718" y="661" width="1" height="78"/><rect x="726" y="661" width="1" height="75"/><rect x="734" y="661" width="1" height="76"/><rect x="742" y="661" width="1" height="76"/><rect x="750" y="661" width="1" height="78"/><rect x="758" y="661" width="1" height="80"/><rect x="766" y="661" width="1" height="79"/><rect x="774" y="661" width="1" height="77"/><rect x="782" y="661" width="1" height="73"/><rect x="790" y="661" width="1" height="66"/><rect x="798" y="661" width="1" height="61"/><rect x="806" y="661" width="1" height="56"/><rect x="814" y="661" width="1" height="49"/><rect x="822" y="661" width="1" height="44"/><rect x="830" y="661" width="1" height="41"/><rect x="838" y="661" width="1" height="36"/><rect x="846" y="661" width="1" height="34"/><rect x="854" y="661" width="1" height="33"/><rect x="862" y="661" width="1" height="38"/><rect x="870" y="661" width="1" height="41"/><rect x="878" y="661" width="1" height="46"/><rect x="886" y="661" width="1" height="48"/><rect x="894" y="661" width="1" height="44"/><rect x="902" y="661" width="1" height="36"/><rect x="910" y="661" width="1" height="28"/><rect x="918" y="661" width="1" height="20"/><rect x="926" y="661" width="1" height="15"/><rect x="934" y="661" width="1" height="13"/><rect x="942" y="661" width="1" height="12"/><rect x="950" y="661" width="1" height="12"/><rect x="958" y="661" width="1" height="10"/><rect x="966" y="661" width="1" height="9"/><rect x="974" y="661" width="1" height="12"/><rect x="982" y="661" width="1" height="16"/><rect x="990" y="661" width="1" height="21"/><rect x="998" y="661" width="1" height="24"/><rect x="1006" y="661" width="1" height="30"/><rect x="1014" y="661" width="1" height="35"/><rect x="1022" y="661" width="1" height="38"/><rect x="1030" y="661" width="1" height="44"/><rect x="1038" y="661" width="1" height="46"/><rect x="1046" y="661" width="1" height="45"/><rect x="1054" y="661" width="1" height="41"/><rect x="1062" y="661" width="1" height="37"/><rect x="1070" y="661" width="1" height="38"/><rect x="1078" y="661" width="1" height="44"/><rect x="1086" y="661" width="1" height="48"/><rect x="1094" y="661" width="1" height="43"/><rect x="1102" y="661" width="1" height="41"/><rect x="1110" y="661" width="1" height="38"/><rect x="1118" y="661" width="1" height="38"/><rect x="1126" y="661" width="1" height="40"/><rect x="1134" y="661" width="1" height="38"/><rect x="1142" y="661" width="1" height="38"/><rect x="1150" y="661" width="1" height="42"/><rect x="1158" y="661" width="1" height="46"/><rect x="1166" y="661" width="1" height="58"/><rect x="1174" y="661" width="1" height="71"/><rect x="1182" y="661" width="1" height="80"/><rect x="1190" y="661" width="1" height="89"/><rect x="1198" y="661" width="1" height="92"/><rect x="1206" y="661" width="1" height="95"/><rect x="1214" y="661" width="1" height="95"/><rect x="1222" y="661" width="1" height="93"/><rect x="1230" y="661" width="1" height="93"/><rect x="1238" y="661" width="1" height="91"/><rect x="1246" y="661" width="1" height="95"/><rect x="1254" y="661" width="1" height="98"/><rect x="1262" y="661" width="1" height="97"/><rect x="1270" y="661" width="1" height="95"/><rect x="1278" y="661" width="1" height="93"/><rect x="1286" y="661" width="1" height="88"/><rect x="1294" y="661" width="1" height="80"/><rect x="1302" y="661" width="1" height="72"/><rect x="1310" y="661" width="1" height="66"/><rect x="1318" y="661" width="1" height="60"/><rect x="1326" y="661" width="1" height="55"/><rect x="1334" y="661" width="1" height="44"/></g>
<g clip-path="url(#cmacd)"><polyline points="0.0,595.0 14.3,613.0 34.4,629.5 47.3,641.7 54.5,649.0 62.5,654.9 70.5,660.1 78.5,663.3 86.5,665.1 94.5,665.1 102.5,663.9 110.5,661.5 118.5,657.2 126.5,651.2 134.5,643.7 142.5,635.5 150.5,628.5 158.5,622.0 166.5,616.3 174.5,611.7 182.5,607.8 190.5,605.7 198.5,606.4 206.5,610.0 214.5,613.4 222.5,617.5 230.5,620.9 238.5,623.5 246.5,625.0 254.5,625.8 262.5,625.7 270.5,624.1 278.5,621.8 286.5,621.3 294.5,620.4 302.5,620.8 310.5,621.8 318.5,623.6 326.5,626.5 334.5,630.6 342.5,636.1 350.5,642.0 358.5,647.4 366.5,652.3 374.5,656.5 382.5,660.8 390.5,665.5 398.5,670.0 406.5,673.3 414.5,675.5 422.5,676.4 430.5,677.1 438.5,677.7 446.5,678.8 454.5,679.2 462.5,679.3 470.5,679.1 478.5,679.4 486.5,679.8 494.5,680.8 502.5,682.2 510.5,684.3 518.5,687.0 526.5,690.1 534.5,693.0 542.5,695.8 550.5,697.1 558.5,697.3 566.5,696.8 574.5,694.3 582.5,690.2 590.5,685.2 598.5,680.1 606.5,675.2 614.5,670.6 622.5,667.2 630.5,664.7 638.5,663.3 646.5,664.0 654.5,666.7 662.5,670.9 670.5,676.5 678.5,682.7 686.5,689.4 694.5,696.4 702.5,703.9 710.5,711.5 718.5,718.3 726.5,723.8 734.5,728.3 742.5,731.5 750.5,733.9 758.5,735.8 766.5,737.1 774.5,737.4 782.5,736.8 790.5,735.5 798.5,733.9 806.5,731.7 814.5,728.7 822.5,724.9 830.5,720.5 838.5,715.9 846.5,711.1 854.5,706.7 862.5,703.6 870.5,701.4 878.5,700.3 886.5,700.3 894.5,700.3 902.5,699.7 910.5,698.8 918.5,697.2 926.5,695.2 934.5,692.4 942.5,689.2 950.5,685.4 958.5,681.2 966.5,677.4 974.5,674.6 982.5,673.3 990.5,673.4 998.5,674.4 1006.5,676.2 1014.5,678.7 1022.5,681.6 1030.5,685.4 1038.5,689.5 1046.5,693.2 1054.5,696.0 1062.5,697.9 1070.5,699.4 1078.5,701.0 1086.5,702.4 1094.5,702.9 1102.5,702.6 1110.5,701.8 1118.5,701.0 1126.5,700.9 1134.5,701.0 1142.5,701.1 1150.5,700.8 1158.5,700.6 1166.5,702.3 1174.5,705.6 1182.5,710.3 1190.5,715.9 1198.5,721.6 1206.5,727.9 1214.5,734.2 1222.5,739.8 1230.5,745.0 1238.5,748.7 1246.5,751.4 1254.5,753.4 1262.5,754.2 1270.5,754.5 1278.5,754.4 1286.5,753.6 1294.5,752.1 1302.5,749.8 1310.5,747.0 1318.5,743.1 1326.5,738.3 1334.5,732.5" fill="none" stroke="#FF0000" stroke-width="1" stroke-dasharray="3 3" shape-rendering="crispEdges"/></g>
<g shape-rendering="crispEdges" fill="#C0C0C0"><rect x="-1" y="802" width="3" height="1"/><rect x="5" y="802" width="3" height="1"/><rect x="11" y="802" width="3" height="1"/><rect x="17" y="802" width="3" height="1"/><rect x="23" y="802" width="3" height="1"/><rect x="29" y="802" width="3" height="1"/><rect x="35" y="802" width="3" height="1"/><rect x="41" y="802" width="3" height="1"/><rect x="47" y="802" width="3" height="1"/><rect x="53" y="802" width="3" height="1"/><rect x="59" y="802" width="3" height="1"/><rect x="65" y="802" width="3" height="1"/><rect x="71" y="802" width="3" height="1"/><rect x="77" y="802" width="3" height="1"/><rect x="83" y="802" width="3" height="1"/><rect x="89" y="802" width="3" height="1"/><rect x="95" y="802" width="3" height="1"/><rect x="101" y="802" width="3" height="1"/><rect x="107" y="802" width="3" height="1"/><rect x="113" y="802" width="3" height="1"/><rect x="119" y="802" width="3" height="1"/><rect x="125" y="802" width="3" height="1"/><rect x="131" y="802" width="3" height="1"/><rect x="137" y="802" width="3" height="1"/><rect x="143" y="802" width="3" height="1"/><rect x="149" y="802" width="3" height="1"/><rect x="155" y="802" width="3" height="1"/><rect x="161" y="802" width="3" height="1"/><rect x="167" y="802" width="3" height="1"/><rect x="173" y="802" width="3" height="1"/><rect x="179" y="802" width="3" height="1"/><rect x="185" y="802" width="3" height="1"/><rect x="191" y="802" width="3" height="1"/><rect x="197" y="802" width="3" height="1"/><rect x="203" y="802" width="3" height="1"/><rect x="209" y="802" width="3" height="1"/><rect x="215" y="802" width="3" height="1"/><rect x="221" y="802" width="3" height="1"/><rect x="227" y="802" width="3" height="1"/><rect x="233" y="802" width="3" height="1"/><rect x="239" y="802" width="3" height="1"/><rect x="245" y="802" width="3" height="1"/><rect x="251" y="802" width="3" height="1"/><rect x="257" y="802" width="3" height="1"/><rect x="263" y="802" width="3" height="1"/><rect x="269" y="802" width="3" height="1"/><rect x="275" y="802" width="3" height="1"/><rect x="281" y="802" width="3" height="1"/><rect x="287" y="802" width="3" height="1"/><rect x="293" y="802" width="3" height="1"/><rect x="299" y="802" width="3" height="1"/><rect x="305" y="802" width="3" height="1"/><rect x="311" y="802" width="3" height="1"/><rect x="317" y="802" width="3" height="1"/><rect x="323" y="802" width="3" height="1"/><rect x="329" y="802" width="3" height="1"/><rect x="335" y="802" width="3" height="1"/><rect x="341" y="802" width="3" height="1"/><rect x="347" y="802" width="3" height="1"/><rect x="353" y="802" width="3" height="1"/><rect x="359" y="802" width="3" height="1"/><rect x="365" y="802" width="3" height="1"/><rect x="371" y="802" width="3" height="1"/><rect x="377" y="802" width="3" height="1"/><rect x="383" y="802" width="3" height="1"/><rect x="389" y="802" width="3" height="1"/><rect x="395" y="802" width="3" height="1"/><rect x="401" y="802" width="3" height="1"/><rect x="407" y="802" width="3" height="1"/><rect x="413" y="802" width="3" height="1"/><rect x="419" y="802" width="3" height="1"/><rect x="425" y="802" width="3" height="1"/><rect x="431" y="802" width="3" height="1"/><rect x="437" y="802" width="3" height="1"/><rect x="443" y="802" width="3" height="1"/><rect x="449" y="802" width="3" height="1"/><rect x="455" y="802" width="3" height="1"/><rect x="461" y="802" width="3" height="1"/><rect x="467" y="802" width="3" height="1"/><rect x="473" y="802" width="3" height="1"/><rect x="479" y="802" width="3" height="1"/><rect x="485" y="802" width="3" height="1"/><rect x="491" y="802" width="3" height="1"/><rect x="497" y="802" width="3" height="1"/><rect x="503" y="802" width="3" height="1"/><rect x="509" y="802" width="3" height="1"/><rect x="515" y="802" width="3" height="1"/><rect x="521" y="802" width="3" height="1"/><rect x="527" y="802" width="3" height="1"/><rect x="533" y="802" width="3" height="1"/><rect x="539" y="802" width="3" height="1"/><rect x="545" y="802" width="3" height="1"/><rect x="551" y="802" width="3" height="1"/><rect x="557" y="802" width="3" height="1"/><rect x="563" y="802" width="3" height="1"/><rect x="569" y="802" width="3" height="1"/><rect x="575" y="802" width="3" height="1"/><rect x="581" y="802" width="3" height="1"/><rect x="587" y="802" width="3" height="1"/><rect x="593" y="802" width="3" height="1"/><rect x="599" y="802" width="3" height="1"/><rect x="605" y="802" width="3" height="1"/><rect x="611" y="802" width="3" height="1"/><rect x="617" y="802" width="3" height="1"/><rect x="623" y="802" width="3" height="1"/><rect x="629" y="802" width="3" height="1"/><rect x="635" y="802" width="3" height="1"/><rect x="641" y="802" width="3" height="1"/><rect x="647" y="802" width="3" height="1"/><rect x="653" y="802" width="3" height="1"/><rect x="659" y="802" width="3" height="1"/><rect x="665" y="802" width="3" height="1"/><rect x="671" y="802" width="3" height="1"/><rect x="677" y="802" width="3" height="1"/><rect x="683" y="802" width="3" height="1"/><rect x="689" y="802" width="3" height="1"/><rect x="695" y="802" width="3" height="1"/><rect x="701" y="802" width="3" height="1"/><rect x="707" y="802" width="3" height="1"/><rect x="713" y="802" width="3" height="1"/><rect x="719" y="802" width="3" height="1"/><rect x="725" y="802" width="3" height="1"/><rect x="731" y="802" width="3" height="1"/><rect x="737" y="802" width="3" height="1"/><rect x="743" y="802" width="3" height="1"/><rect x="749" y="802" width="3" height="1"/><rect x="755" y="802" width="3" height="1"/><rect x="761" y="802" width="3" height="1"/><rect x="767" y="802" width="3" height="1"/><rect x="773" y="802" width="3" height="1"/><rect x="779" y="802" width="3" height="1"/><rect x="785" y="802" width="3" height="1"/><rect x="791" y="802" width="3" height="1"/><rect x="797" y="802" width="3" height="1"/><rect x="803" y="802" width="3" height="1"/><rect x="809" y="802" width="3" height="1"/><rect x="815" y="802" width="3" height="1"/><rect x="821" y="802" width="3" height="1"/><rect x="827" y="802" width="3" height="1"/><rect x="833" y="802" width="3" height="1"/><rect x="839" y="802" width="3" height="1"/><rect x="845" y="802" width="3" height="1"/><rect x="851" y="802" width="3" height="1"/><rect x="857" y="802" width="3" height="1"/><rect x="863" y="802" width="3" height="1"/><rect x="869" y="802" width="3" height="1"/><rect x="875" y="802" width="3" height="1"/><rect x="881" y="802" width="3" height="1"/><rect x="887" y="802" width="3" height="1"/><rect x="893" y="802" width="3" height="1"/><rect x="899" y="802" width="3" height="1"/><rect x="905" y="802" width="3" height="1"/><rect x="911" y="802" width="3" height="1"/><rect x="917" y="802" width="3" height="1"/><rect x="923" y="802" width="3" height="1"/><rect x="929" y="802" width="3" height="1"/><rect x="935" y="802" width="3" height="1"/><rect x="941" y="802" width="3" height="1"/><rect x="947" y="802" width="3" height="1"/><rect x="953" y="802" width="3" height="1"/><rect x="959" y="802" width="3" height="1"/><rect x="965" y="802" width="3" height="1"/><rect x="971" y="802" width="3" height="1"/><rect x="977" y="802" width="3" height="1"/><rect x="983" y="802" width="3" height="1"/><rect x="989" y="802" width="3" height="1"/><rect x="995" y="802" width="3" height="1"/><rect x="1001" y="802" width="3" height="1"/><rect x="1007" y="802" width="3" height="1"/><rect x="1013" y="802" width="3" height="1"/><rect x="1019" y="802" width="3" height="1"/><rect x="1025" y="802" width="3" height="1"/><rect x="1031" y="802" width="3" height="1"/><rect x="1037" y="802" width="3" height="1"/><rect x="1043" y="802" width="3" height="1"/><rect x="1049" y="802" width="3" height="1"/><rect x="1055" y="802" width="3" height="1"/><rect x="1061" y="802" width="3" height="1"/><rect x="1067" y="802" width="3" height="1"/><rect x="1073" y="802" width="3" height="1"/><rect x="1079" y="802" width="3" height="1"/><rect x="1085" y="802" width="3" height="1"/><rect x="1091" y="802" width="3" height="1"/><rect x="1097" y="802" width="3" height="1"/><rect x="1103" y="802" width="3" height="1"/><rect x="1109" y="802" width="3" height="1"/><rect x="1115" y="802" width="3" height="1"/><rect x="1121" y="802" width="3" height="1"/><rect x="1127" y="802" width="3" height="1"/><rect x="1133" y="802" width="3" height="1"/><rect x="1139" y="802" width="3" height="1"/><rect x="1145" y="802" width="3" height="1"/><rect x="1151" y="802" width="3" height="1"/><rect x="1157" y="802" width="3" height="1"/><rect x="1163" y="802" width="3" height="1"/><rect x="1169" y="802" width="3" height="1"/><rect x="1175" y="802" width="3" height="1"/><rect x="1181" y="802" width="3" height="1"/><rect x="1187" y="802" width="3" height="1"/><rect x="1193" y="802" width="3" height="1"/><rect x="1199" y="802" width="3" height="1"/><rect x="1205" y="802" width="3" height="1"/><rect x="1211" y="802" width="3" height="1"/><rect x="1217" y="802" width="3" height="1"/><rect x="1223" y="802" width="3" height="1"/><rect x="1229" y="802" width="3" height="1"/><rect x="1235" y="802" width="3" height="1"/><rect x="1241" y="802" width="3" height="1"/><rect x="1247" y="802" width="3" height="1"/><rect x="1253" y="802" width="3" height="1"/><rect x="1259" y="802" width="3" height="1"/><rect x="1265" y="802" width="3" height="1"/><rect x="1271" y="802" width="3" height="1"/><rect x="1277" y="802" width="3" height="1"/><rect x="1283" y="802" width="3" height="1"/><rect x="1289" y="802" width="3" height="1"/><rect x="1295" y="802" width="3" height="1"/><rect x="1301" y="802" width="3" height="1"/><rect x="1307" y="802" width="3" height="1"/><rect x="1313" y="802" width="3" height="1"/><rect x="1319" y="802" width="3" height="1"/><rect x="1325" y="802" width="3" height="1"/><rect x="1331" y="802" width="3" height="1"/><rect x="1337" y="802" width="3" height="1"/><rect x="1343" y="802" width="3" height="1"/><rect x="1349" y="802" width="3" height="1"/><rect x="1355" y="802" width="3" height="1"/><rect x="1361" y="802" width="3" height="1"/><rect x="1367" y="802" width="3" height="1"/><rect x="1373" y="802" width="3" height="1"/><rect x="1379" y="802" width="3" height="1"/><rect x="1385" y="802" width="3" height="1"/><rect x="1391" y="802" width="3" height="1"/><rect x="1397" y="802" width="3" height="1"/><rect x="1403" y="802" width="3" height="1"/><rect x="1409" y="802" width="3" height="1"/><rect x="1415" y="802" width="3" height="1"/><rect x="1421" y="802" width="3" height="1"/><rect x="1427" y="802" width="3" height="1"/><rect x="1433" y="802" width="3" height="1"/><rect x="1439" y="802" width="3" height="1"/><rect x="1445" y="802" width="3" height="1"/><rect x="1451" y="802" width="3" height="1"/><rect x="1457" y="802" width="3" height="1"/><rect x="1463" y="802" width="3" height="1"/><rect x="1469" y="802" width="3" height="1"/><rect x="1475" y="802" width="3" height="1"/><rect x="1481" y="802" width="3" height="1"/><rect x="1487" y="802" width="3" height="1"/><rect x="1493" y="802" width="3" height="1"/><rect x="1499" y="802" width="3" height="1"/><rect x="1505" y="802" width="3" height="1"/><rect x="1511" y="802" width="3" height="1"/><rect x="1517" y="802" width="3" height="1"/><rect x="1523" y="802" width="3" height="1"/><rect x="1529" y="802" width="3" height="1"/><rect x="1535" y="802" width="3" height="1"/><rect x="1541" y="802" width="3" height="1"/><rect x="1547" y="802" width="3" height="1"/><rect x="1553" y="802" width="3" height="1"/><rect x="1559" y="802" width="3" height="1"/><rect x="1565" y="802" width="3" height="1"/><rect x="1571" y="802" width="3" height="1"/><rect x="1577" y="802" width="3" height="1"/><rect x="1583" y="802" width="3" height="1"/><rect x="1589" y="802" width="3" height="1"/><rect x="1595" y="802" width="3" height="1"/><rect x="1601" y="802" width="3" height="1"/><rect x="1607" y="802" width="3" height="1"/><rect x="1613" y="802" width="3" height="1"/><rect x="1619" y="802" width="3" height="1"/><rect x="1625" y="802" width="3" height="1"/><rect x="-1" y="849" width="3" height="1"/><rect x="5" y="849" width="3" height="1"/><rect x="11" y="849" width="3" height="1"/><rect x="17" y="849" width="3" height="1"/><rect x="23" y="849" width="3" height="1"/><rect x="29" y="849" width="3" height="1"/><rect x="35" y="849" width="3" height="1"/><rect x="41" y="849" width="3" height="1"/><rect x="47" y="849" width="3" height="1"/><rect x="53" y="849" width="3" height="1"/><rect x="59" y="849" width="3" height="1"/><rect x="65" y="849" width="3" height="1"/><rect x="71" y="849" width="3" height="1"/><rect x="77" y="849" width="3" height="1"/><rect x="83" y="849" width="3" height="1"/><rect x="89" y="849" width="3" height="1"/><rect x="95" y="849" width="3" height="1"/><rect x="101" y="849" width="3" height="1"/><rect x="107" y="849" width="3" height="1"/><rect x="113" y="849" width="3" height="1"/><rect x="119" y="849" width="3" height="1"/><rect x="125" y="849" width="3" height="1"/><rect x="131" y="849" width="3" height="1"/><rect x="137" y="849" width="3" height="1"/><rect x="143" y="849" width="3" height="1"/><rect x="149" y="849" width="3" height="1"/><rect x="155" y="849" width="3" height="1"/><rect x="161" y="849" width="3" height="1"/><rect x="167" y="849" width="3" height="1"/><rect x="173" y="849" width="3" height="1"/><rect x="179" y="849" width="3" height="1"/><rect x="185" y="849" width="3" height="1"/><rect x="191" y="849" width="3" height="1"/><rect x="197" y="849" width="3" height="1"/><rect x="203" y="849" width="3" height="1"/><rect x="209" y="849" width="3" height="1"/><rect x="215" y="849" width="3" height="1"/><rect x="221" y="849" width="3" height="1"/><rect x="227" y="849" width="3" height="1"/><rect x="233" y="849" width="3" height="1"/><rect x="239" y="849" width="3" height="1"/><rect x="245" y="849" width="3" height="1"/><rect x="251" y="849" width="3" height="1"/><rect x="257" y="849" width="3" height="1"/><rect x="263" y="849" width="3" height="1"/><rect x="269" y="849" width="3" height="1"/><rect x="275" y="849" width="3" height="1"/><rect x="281" y="849" width="3" height="1"/><rect x="287" y="849" width="3" height="1"/><rect x="293" y="849" width="3" height="1"/><rect x="299" y="849" width="3" height="1"/><rect x="305" y="849" width="3" height="1"/><rect x="311" y="849" width="3" height="1"/><rect x="317" y="849" width="3" height="1"/><rect x="323" y="849" width="3" height="1"/><rect x="329" y="849" width="3" height="1"/><rect x="335" y="849" width="3" height="1"/><rect x="341" y="849" width="3" height="1"/><rect x="347" y="849" width="3" height="1"/><rect x="353" y="849" width="3" height="1"/><rect x="359" y="849" width="3" height="1"/><rect x="365" y="849" width="3" height="1"/><rect x="371" y="849" width="3" height="1"/><rect x="377" y="849" width="3" height="1"/><rect x="383" y="849" width="3" height="1"/><rect x="389" y="849" width="3" height="1"/><rect x="395" y="849" width="3" height="1"/><rect x="401" y="849" width="3" height="1"/><rect x="407" y="849" width="3" height="1"/><rect x="413" y="849" width="3" height="1"/><rect x="419" y="849" width="3" height="1"/><rect x="425" y="849" width="3" height="1"/><rect x="431" y="849" width="3" height="1"/><rect x="437" y="849" width="3" height="1"/><rect x="443" y="849" width="3" height="1"/><rect x="449" y="849" width="3" height="1"/><rect x="455" y="849" width="3" height="1"/><rect x="461" y="849" width="3" height="1"/><rect x="467" y="849" width="3" height="1"/><rect x="473" y="849" width="3" height="1"/><rect x="479" y="849" width="3" height="1"/><rect x="485" y="849" width="3" height="1"/><rect x="491" y="849" width="3" height="1"/><rect x="497" y="849" width="3" height="1"/><rect x="503" y="849" width="3" height="1"/><rect x="509" y="849" width="3" height="1"/><rect x="515" y="849" width="3" height="1"/><rect x="521" y="849" width="3" height="1"/><rect x="527" y="849" width="3" height="1"/><rect x="533" y="849" width="3" height="1"/><rect x="539" y="849" width="3" height="1"/><rect x="545" y="849" width="3" height="1"/><rect x="551" y="849" width="3" height="1"/><rect x="557" y="849" width="3" height="1"/><rect x="563" y="849" width="3" height="1"/><rect x="569" y="849" width="3" height="1"/><rect x="575" y="849" width="3" height="1"/><rect x="581" y="849" width="3" height="1"/><rect x="587" y="849" width="3" height="1"/><rect x="593" y="849" width="3" height="1"/><rect x="599" y="849" width="3" height="1"/><rect x="605" y="849" width="3" height="1"/><rect x="611" y="849" width="3" height="1"/><rect x="617" y="849" width="3" height="1"/><rect x="623" y="849" width="3" height="1"/><rect x="629" y="849" width="3" height="1"/><rect x="635" y="849" width="3" height="1"/><rect x="641" y="849" width="3" height="1"/><rect x="647" y="849" width="3" height="1"/><rect x="653" y="849" width="3" height="1"/><rect x="659" y="849" width="3" height="1"/><rect x="665" y="849" width="3" height="1"/><rect x="671" y="849" width="3" height="1"/><rect x="677" y="849" width="3" height="1"/><rect x="683" y="849" width="3" height="1"/><rect x="689" y="849" width="3" height="1"/><rect x="695" y="849" width="3" height="1"/><rect x="701" y="849" width="3" height="1"/><rect x="707" y="849" width="3" height="1"/><rect x="713" y="849" width="3" height="1"/><rect x="719" y="849" width="3" height="1"/><rect x="725" y="849" width="3" height="1"/><rect x="731" y="849" width="3" height="1"/><rect x="737" y="849" width="3" height="1"/><rect x="743" y="849" width="3" height="1"/><rect x="749" y="849" width="3" height="1"/><rect x="755" y="849" width="3" height="1"/><rect x="761" y="849" width="3" height="1"/><rect x="767" y="849" width="3" height="1"/><rect x="773" y="849" width="3" height="1"/><rect x="779" y="849" width="3" height="1"/><rect x="785" y="849" width="3" height="1"/><rect x="791" y="849" width="3" height="1"/><rect x="797" y="849" width="3" height="1"/><rect x="803" y="849" width="3" height="1"/><rect x="809" y="849" width="3" height="1"/><rect x="815" y="849" width="3" height="1"/><rect x="821" y="849" width="3" height="1"/><rect x="827" y="849" width="3" height="1"/><rect x="833" y="849" width="3" height="1"/><rect x="839" y="849" width="3" height="1"/><rect x="845" y="849" width="3" height="1"/><rect x="851" y="849" width="3" height="1"/><rect x="857" y="849" width="3" height="1"/><rect x="863" y="849" width="3" height="1"/><rect x="869" y="849" width="3" height="1"/><rect x="875" y="849" width="3" height="1"/><rect x="881" y="849" width="3" height="1"/><rect x="887" y="849" width="3" height="1"/><rect x="893" y="849" width="3" height="1"/><rect x="899" y="849" width="3" height="1"/><rect x="905" y="849" width="3" height="1"/><rect x="911" y="849" width="3" height="1"/><rect x="917" y="849" width="3" height="1"/><rect x="923" y="849" width="3" height="1"/><rect x="929" y="849" width="3" height="1"/><rect x="935" y="849" width="3" height="1"/><rect x="941" y="849" width="3" height="1"/><rect x="947" y="849" width="3" height="1"/><rect x="953" y="849" width="3" height="1"/><rect x="959" y="849" width="3" height="1"/><rect x="965" y="849" width="3" height="1"/><rect x="971" y="849" width="3" height="1"/><rect x="977" y="849" width="3" height="1"/><rect x="983" y="849" width="3" height="1"/><rect x="989" y="849" width="3" height="1"/><rect x="995" y="849" width="3" height="1"/><rect x="1001" y="849" width="3" height="1"/><rect x="1007" y="849" width="3" height="1"/><rect x="1013" y="849" width="3" height="1"/><rect x="1019" y="849" width="3" height="1"/><rect x="1025" y="849" width="3" height="1"/><rect x="1031" y="849" width="3" height="1"/><rect x="1037" y="849" width="3" height="1"/><rect x="1043" y="849" width="3" height="1"/><rect x="1049" y="849" width="3" height="1"/><rect x="1055" y="849" width="3" height="1"/><rect x="1061" y="849" width="3" height="1"/><rect x="1067" y="849" width="3" height="1"/><rect x="1073" y="849" width="3" height="1"/><rect x="1079" y="849" width="3" height="1"/><rect x="1085" y="849" width="3" height="1"/><rect x="1091" y="849" width="3" height="1"/><rect x="1097" y="849" width="3" height="1"/><rect x="1103" y="849" width="3" height="1"/><rect x="1109" y="849" width="3" height="1"/><rect x="1115" y="849" width="3" height="1"/><rect x="1121" y="849" width="3" height="1"/><rect x="1127" y="849" width="3" height="1"/><rect x="1133" y="849" width="3" height="1"/><rect x="1139" y="849" width="3" height="1"/><rect x="1145" y="849" width="3" height="1"/><rect x="1151" y="849" width="3" height="1"/><rect x="1157" y="849" width="3" height="1"/><rect x="1163" y="849" width="3" height="1"/><rect x="1169" y="849" width="3" height="1"/><rect x="1175" y="849" width="3" height="1"/><rect x="1181" y="849" width="3" height="1"/><rect x="1187" y="849" width="3" height="1"/><rect x="1193" y="849" width="3" height="1"/><rect x="1199" y="849" width="3" height="1"/><rect x="1205" y="849" width="3" height="1"/><rect x="1211" y="849" width="3" height="1"/><rect x="1217" y="849" width="3" height="1"/><rect x="1223" y="849" width="3" height="1"/><rect x="1229" y="849" width="3" height="1"/><rect x="1235" y="849" width="3" height="1"/><rect x="1241" y="849" width="3" height="1"/><rect x="1247" y="849" width="3" height="1"/><rect x="1253" y="849" width="3" height="1"/><rect x="1259" y="849" width="3" height="1"/><rect x="1265" y="849" width="3" height="1"/><rect x="1271" y="849" width="3" height="1"/><rect x="1277" y="849" width="3" height="1"/><rect x="1283" y="849" width="3" height="1"/><rect x="1289" y="849" width="3" height="1"/><rect x="1295" y="849" width="3" height="1"/><rect x="1301" y="849" width="3" height="1"/><rect x="1307" y="849" width="3" height="1"/><rect x="1313" y="849" width="3" height="1"/><rect x="1319" y="849" width="3" height="1"/><rect x="1325" y="849" width="3" height="1"/><rect x="1331" y="849" width="3" height="1"/><rect x="1337" y="849" width="3" height="1"/><rect x="1343" y="849" width="3" height="1"/><rect x="1349" y="849" width="3" height="1"/><rect x="1355" y="849" width="3" height="1"/><rect x="1361" y="849" width="3" height="1"/><rect x="1367" y="849" width="3" height="1"/><rect x="1373" y="849" width="3" height="1"/><rect x="1379" y="849" width="3" height="1"/><rect x="1385" y="849" width="3" height="1"/><rect x="1391" y="849" width="3" height="1"/><rect x="1397" y="849" width="3" height="1"/><rect x="1403" y="849" width="3" height="1"/><rect x="1409" y="849" width="3" height="1"/><rect x="1415" y="849" width="3" height="1"/><rect x="1421" y="849" width="3" height="1"/><rect x="1427" y="849" width="3" height="1"/><rect x="1433" y="849" width="3" height="1"/><rect x="1439" y="849" width="3" height="1"/><rect x="1445" y="849" width="3" height="1"/><rect x="1451" y="849" width="3" height="1"/><rect x="1457" y="849" width="3" height="1"/><rect x="1463" y="849" width="3" height="1"/><rect x="1469" y="849" width="3" height="1"/><rect x="1475" y="849" width="3" height="1"/><rect x="1481" y="849" width="3" height="1"/><rect x="1487" y="849" width="3" height="1"/><rect x="1493" y="849" width="3" height="1"/><rect x="1499" y="849" width="3" height="1"/><rect x="1505" y="849" width="3" height="1"/><rect x="1511" y="849" width="3" height="1"/><rect x="1517" y="849" width="3" height="1"/><rect x="1523" y="849" width="3" height="1"/><rect x="1529" y="849" width="3" height="1"/><rect x="1535" y="849" width="3" height="1"/><rect x="1541" y="849" width="3" height="1"/><rect x="1547" y="849" width="3" height="1"/><rect x="1553" y="849" width="3" height="1"/><rect x="1559" y="849" width="3" height="1"/><rect x="1565" y="849" width="3" height="1"/><rect x="1571" y="849" width="3" height="1"/><rect x="1577" y="849" width="3" height="1"/><rect x="1583" y="849" width="3" height="1"/><rect x="1589" y="849" width="3" height="1"/><rect x="1595" y="849" width="3" height="1"/><rect x="1601" y="849" width="3" height="1"/><rect x="1607" y="849" width="3" height="1"/><rect x="1613" y="849" width="3" height="1"/><rect x="1619" y="849" width="3" height="1"/><rect x="1625" y="849" width="3" height="1"/><rect x="-1" y="905" width="3" height="1"/><rect x="5" y="905" width="3" height="1"/><rect x="11" y="905" width="3" height="1"/><rect x="17" y="905" width="3" height="1"/><rect x="23" y="905" width="3" height="1"/><rect x="29" y="905" width="3" height="1"/><rect x="35" y="905" width="3" height="1"/><rect x="41" y="905" width="3" height="1"/><rect x="47" y="905" width="3" height="1"/><rect x="53" y="905" width="3" height="1"/><rect x="59" y="905" width="3" height="1"/><rect x="65" y="905" width="3" height="1"/><rect x="71" y="905" width="3" height="1"/><rect x="77" y="905" width="3" height="1"/><rect x="83" y="905" width="3" height="1"/><rect x="89" y="905" width="3" height="1"/><rect x="95" y="905" width="3" height="1"/><rect x="101" y="905" width="3" height="1"/><rect x="107" y="905" width="3" height="1"/><rect x="113" y="905" width="3" height="1"/><rect x="119" y="905" width="3" height="1"/><rect x="125" y="905" width="3" height="1"/><rect x="131" y="905" width="3" height="1"/><rect x="137" y="905" width="3" height="1"/><rect x="143" y="905" width="3" height="1"/><rect x="149" y="905" width="3" height="1"/><rect x="155" y="905" width="3" height="1"/><rect x="161" y="905" width="3" height="1"/><rect x="167" y="905" width="3" height="1"/><rect x="173" y="905" width="3" height="1"/><rect x="179" y="905" width="3" height="1"/><rect x="185" y="905" width="3" height="1"/><rect x="191" y="905" width="3" height="1"/><rect x="197" y="905" width="3" height="1"/><rect x="203" y="905" width="3" height="1"/><rect x="209" y="905" width="3" height="1"/><rect x="215" y="905" width="3" height="1"/><rect x="221" y="905" width="3" height="1"/><rect x="227" y="905" width="3" height="1"/><rect x="233" y="905" width="3" height="1"/><rect x="239" y="905" width="3" height="1"/><rect x="245" y="905" width="3" height="1"/><rect x="251" y="905" width="3" height="1"/><rect x="257" y="905" width="3" height="1"/><rect x="263" y="905" width="3" height="1"/><rect x="269" y="905" width="3" height="1"/><rect x="275" y="905" width="3" height="1"/><rect x="281" y="905" width="3" height="1"/><rect x="287" y="905" width="3" height="1"/><rect x="293" y="905" width="3" height="1"/><rect x="299" y="905" width="3" height="1"/><rect x="305" y="905" width="3" height="1"/><rect x="311" y="905" width="3" height="1"/><rect x="317" y="905" width="3" height="1"/><rect x="323" y="905" width="3" height="1"/><rect x="329" y="905" width="3" height="1"/><rect x="335" y="905" width="3" height="1"/><rect x="341" y="905" width="3" height="1"/><rect x="347" y="905" width="3" height="1"/><rect x="353" y="905" width="3" height="1"/><rect x="359" y="905" width="3" height="1"/><rect x="365" y="905" width="3" height="1"/><rect x="371" y="905" width="3" height="1"/><rect x="377" y="905" width="3" height="1"/><rect x="383" y="905" width="3" height="1"/><rect x="389" y="905" width="3" height="1"/><rect x="395" y="905" width="3" height="1"/><rect x="401" y="905" width="3" height="1"/><rect x="407" y="905" width="3" height="1"/><rect x="413" y="905" width="3" height="1"/><rect x="419" y="905" width="3" height="1"/><rect x="425" y="905" width="3" height="1"/><rect x="431" y="905" width="3" height="1"/><rect x="437" y="905" width="3" height="1"/><rect x="443" y="905" width="3" height="1"/><rect x="449" y="905" width="3" height="1"/><rect x="455" y="905" width="3" height="1"/><rect x="461" y="905" width="3" height="1"/><rect x="467" y="905" width="3" height="1"/><rect x="473" y="905" width="3" height="1"/><rect x="479" y="905" width="3" height="1"/><rect x="485" y="905" width="3" height="1"/><rect x="491" y="905" width="3" height="1"/><rect x="497" y="905" width="3" height="1"/><rect x="503" y="905" width="3" height="1"/><rect x="509" y="905" width="3" height="1"/><rect x="515" y="905" width="3" height="1"/><rect x="521" y="905" width="3" height="1"/><rect x="527" y="905" width="3" height="1"/><rect x="533" y="905" width="3" height="1"/><rect x="539" y="905" width="3" height="1"/><rect x="545" y="905" width="3" height="1"/><rect x="551" y="905" width="3" height="1"/><rect x="557" y="905" width="3" height="1"/><rect x="563" y="905" width="3" height="1"/><rect x="569" y="905" width="3" height="1"/><rect x="575" y="905" width="3" height="1"/><rect x="581" y="905" width="3" height="1"/><rect x="587" y="905" width="3" height="1"/><rect x="593" y="905" width="3" height="1"/><rect x="599" y="905" width="3" height="1"/><rect x="605" y="905" width="3" height="1"/><rect x="611" y="905" width="3" height="1"/><rect x="617" y="905" width="3" height="1"/><rect x="623" y="905" width="3" height="1"/><rect x="629" y="905" width="3" height="1"/><rect x="635" y="905" width="3" height="1"/><rect x="641" y="905" width="3" height="1"/><rect x="647" y="905" width="3" height="1"/><rect x="653" y="905" width="3" height="1"/><rect x="659" y="905" width="3" height="1"/><rect x="665" y="905" width="3" height="1"/><rect x="671" y="905" width="3" height="1"/><rect x="677" y="905" width="3" height="1"/><rect x="683" y="905" width="3" height="1"/><rect x="689" y="905" width="3" height="1"/><rect x="695" y="905" width="3" height="1"/><rect x="701" y="905" width="3" height="1"/><rect x="707" y="905" width="3" height="1"/><rect x="713" y="905" width="3" height="1"/><rect x="719" y="905" width="3" height="1"/><rect x="725" y="905" width="3" height="1"/><rect x="731" y="905" width="3" height="1"/><rect x="737" y="905" width="3" height="1"/><rect x="743" y="905" width="3" height="1"/><rect x="749" y="905" width="3" height="1"/><rect x="755" y="905" width="3" height="1"/><rect x="761" y="905" width="3" height="1"/><rect x="767" y="905" width="3" height="1"/><rect x="773" y="905" width="3" height="1"/><rect x="779" y="905" width="3" height="1"/><rect x="785" y="905" width="3" height="1"/><rect x="791" y="905" width="3" height="1"/><rect x="797" y="905" width="3" height="1"/><rect x="803" y="905" width="3" height="1"/><rect x="809" y="905" width="3" height="1"/><rect x="815" y="905" width="3" height="1"/><rect x="821" y="905" width="3" height="1"/><rect x="827" y="905" width="3" height="1"/><rect x="833" y="905" width="3" height="1"/><rect x="839" y="905" width="3" height="1"/><rect x="845" y="905" width="3" height="1"/><rect x="851" y="905" width="3" height="1"/><rect x="857" y="905" width="3" height="1"/><rect x="863" y="905" width="3" height="1"/><rect x="869" y="905" width="3" height="1"/><rect x="875" y="905" width="3" height="1"/><rect x="881" y="905" width="3" height="1"/><rect x="887" y="905" width="3" height="1"/><rect x="893" y="905" width="3" height="1"/><rect x="899" y="905" width="3" height="1"/><rect x="905" y="905" width="3" height="1"/><rect x="911" y="905" width="3" height="1"/><rect x="917" y="905" width="3" height="1"/><rect x="923" y="905" width="3" height="1"/><rect x="929" y="905" width="3" height="1"/><rect x="935" y="905" width="3" height="1"/><rect x="941" y="905" width="3" height="1"/><rect x="947" y="905" width="3" height="1"/><rect x="953" y="905" width="3" height="1"/><rect x="959" y="905" width="3" height="1"/><rect x="965" y="905" width="3" height="1"/><rect x="971" y="905" width="3" height="1"/><rect x="977" y="905" width="3" height="1"/><rect x="983" y="905" width="3" height="1"/><rect x="989" y="905" width="3" height="1"/><rect x="995" y="905" width="3" height="1"/><rect x="1001" y="905" width="3" height="1"/><rect x="1007" y="905" width="3" height="1"/><rect x="1013" y="905" width="3" height="1"/><rect x="1019" y="905" width="3" height="1"/><rect x="1025" y="905" width="3" height="1"/><rect x="1031" y="905" width="3" height="1"/><rect x="1037" y="905" width="3" height="1"/><rect x="1043" y="905" width="3" height="1"/><rect x="1049" y="905" width="3" height="1"/><rect x="1055" y="905" width="3" height="1"/><rect x="1061" y="905" width="3" height="1"/><rect x="1067" y="905" width="3" height="1"/><rect x="1073" y="905" width="3" height="1"/><rect x="1079" y="905" width="3" height="1"/><rect x="1085" y="905" width="3" height="1"/><rect x="1091" y="905" width="3" height="1"/><rect x="1097" y="905" width="3" height="1"/><rect x="1103" y="905" width="3" height="1"/><rect x="1109" y="905" width="3" height="1"/><rect x="1115" y="905" width="3" height="1"/><rect x="1121" y="905" width="3" height="1"/><rect x="1127" y="905" width="3" height="1"/><rect x="1133" y="905" width="3" height="1"/><rect x="1139" y="905" width="3" height="1"/><rect x="1145" y="905" width="3" height="1"/><rect x="1151" y="905" width="3" height="1"/><rect x="1157" y="905" width="3" height="1"/><rect x="1163" y="905" width="3" height="1"/><rect x="1169" y="905" width="3" height="1"/><rect x="1175" y="905" width="3" height="1"/><rect x="1181" y="905" width="3" height="1"/><rect x="1187" y="905" width="3" height="1"/><rect x="1193" y="905" width="3" height="1"/><rect x="1199" y="905" width="3" height="1"/><rect x="1205" y="905" width="3" height="1"/><rect x="1211" y="905" width="3" height="1"/><rect x="1217" y="905" width="3" height="1"/><rect x="1223" y="905" width="3" height="1"/><rect x="1229" y="905" width="3" height="1"/><rect x="1235" y="905" width="3" height="1"/><rect x="1241" y="905" width="3" height="1"/><rect x="1247" y="905" width="3" height="1"/><rect x="1253" y="905" width="3" height="1"/><rect x="1259" y="905" width="3" height="1"/><rect x="1265" y="905" width="3" height="1"/><rect x="1271" y="905" width="3" height="1"/><rect x="1277" y="905" width="3" height="1"/><rect x="1283" y="905" width="3" height="1"/><rect x="1289" y="905" width="3" height="1"/><rect x="1295" y="905" width="3" height="1"/><rect x="1301" y="905" width="3" height="1"/><rect x="1307" y="905" width="3" height="1"/><rect x="1313" y="905" width="3" height="1"/><rect x="1319" y="905" width="3" height="1"/><rect x="1325" y="905" width="3" height="1"/><rect x="1331" y="905" width="3" height="1"/><rect x="1337" y="905" width="3" height="1"/><rect x="1343" y="905" width="3" height="1"/><rect x="1349" y="905" width="3" height="1"/><rect x="1355" y="905" width="3" height="1"/><rect x="1361" y="905" width="3" height="1"/><rect x="1367" y="905" width="3" height="1"/><rect x="1373" y="905" width="3" height="1"/><rect x="1379" y="905" width="3" height="1"/><rect x="1385" y="905" width="3" height="1"/><rect x="1391" y="905" width="3" height="1"/><rect x="1397" y="905" width="3" height="1"/><rect x="1403" y="905" width="3" height="1"/><rect x="1409" y="905" width="3" height="1"/><rect x="1415" y="905" width="3" height="1"/><rect x="1421" y="905" width="3" height="1"/><rect x="1427" y="905" width="3" height="1"/><rect x="1433" y="905" width="3" height="1"/><rect x="1439" y="905" width="3" height="1"/><rect x="1445" y="905" width="3" height="1"/><rect x="1451" y="905" width="3" height="1"/><rect x="1457" y="905" width="3" height="1"/><rect x="1463" y="905" width="3" height="1"/><rect x="1469" y="905" width="3" height="1"/><rect x="1475" y="905" width="3" height="1"/><rect x="1481" y="905" width="3" height="1"/><rect x="1487" y="905" width="3" height="1"/><rect x="1493" y="905" width="3" height="1"/><rect x="1499" y="905" width="3" height="1"/><rect x="1505" y="905" width="3" height="1"/><rect x="1511" y="905" width="3" height="1"/><rect x="1517" y="905" width="3" height="1"/><rect x="1523" y="905" width="3" height="1"/><rect x="1529" y="905" width="3" height="1"/><rect x="1535" y="905" width="3" height="1"/><rect x="1541" y="905" width="3" height="1"/><rect x="1547" y="905" width="3" height="1"/><rect x="1553" y="905" width="3" height="1"/><rect x="1559" y="905" width="3" height="1"/><rect x="1565" y="905" width="3" height="1"/><rect x="1571" y="905" width="3" height="1"/><rect x="1577" y="905" width="3" height="1"/><rect x="1583" y="905" width="3" height="1"/><rect x="1589" y="905" width="3" height="1"/><rect x="1595" y="905" width="3" height="1"/><rect x="1601" y="905" width="3" height="1"/><rect x="1607" y="905" width="3" height="1"/><rect x="1613" y="905" width="3" height="1"/><rect x="1619" y="905" width="3" height="1"/><rect x="1625" y="905" width="3" height="1"/></g>
<g clip-path="url(#crsi)"><polyline points="-1.5,854.4 6.5,854.4 14.5,854.1 22.5,863.2 30.5,859.0 38.5,863.4 46.5,869.8 54.5,855.6 62.5,853.7 70.5,850.8 78.5,834.5 86.5,836.6 94.5,837.1 102.5,834.9 110.5,834.5 118.5,827.2 126.5,815.3 134.5,812.2 142.5,820.2 150.5,832.5 158.5,828.0 166.5,836.7 174.5,839.7 182.5,837.2 190.5,849.0 198.5,857.6 206.5,860.7 214.5,833.6 222.5,851.4 230.5,836.6 238.5,838.8 246.5,837.4 254.5,836.6 262.5,839.4 270.5,839.1 278.5,845.4 286.5,852.0 294.5,845.4 302.5,845.5 310.5,844.9 318.5,845.1 326.5,851.5 334.5,861.0 342.5,865.2 350.5,863.2 358.5,857.5 366.5,850.8 374.5,845.5 382.5,855.8 390.5,860.0 398.5,859.4 406.5,856.3 414.5,856.6 422.5,851.2 430.5,856.2 438.5,853.5 446.5,853.2 454.5,850.4 462.5,857.9 470.5,858.5 478.5,865.7 486.5,863.9 494.5,865.1 502.5,870.7 510.5,874.6 518.5,875.6 526.5,869.1 534.5,869.9 542.5,867.3 550.5,846.2 558.5,844.1 566.5,847.6 574.5,829.8 582.5,832.4 590.5,841.6 598.5,846.3 606.5,855.0 614.5,855.1 622.5,855.4 630.5,855.4 638.5,862.0 646.5,869.8 654.5,876.7 662.5,881.6 670.5,887.7 678.5,887.0 686.5,887.0 694.5,888.7 702.5,892.3 710.5,892.6 718.5,879.1 726.5,876.6 734.5,881.4 742.5,883.7 750.5,886.7 758.5,888.9 766.5,882.2 774.5,881.2 782.5,873.4 790.5,863.5 798.5,865.8 806.5,864.9 814.5,853.5 822.5,857.1 830.5,862.8 838.5,855.5 846.5,860.7 854.5,863.0 862.5,877.4 870.5,875.2 878.5,881.2 886.5,875.5 894.5,856.8 902.5,847.8 910.5,843.2 918.5,841.0 926.5,843.1 934.5,851.9 942.5,851.8 950.5,854.6 958.5,849.2 966.5,850.7 974.5,860.3 982.5,867.4 990.5,869.6 998.5,869.9 1006.5,877.5 1014.5,877.8 1022.5,879.0 1030.5,886.1 1038.5,872.7 1046.5,869.6 1054.5,857.9 1062.5,857.5 1070.5,866.9 1078.5,879.9 1086.5,874.9 1094.5,854.7 1102.5,860.2 1110.5,858.1 1118.5,863.1 1126.5,867.4 1134.5,859.2 1142.5,863.1 1150.5,871.1 1158.5,872.3 1166.5,885.9 1174.5,889.5 1182.5,889.9 1190.5,891.8 1198.5,885.2 1206.5,885.8 1214.5,884.5 1222.5,881.4 1230.5,884.0 1238.5,884.1 1246.5,891.5 1254.5,894.0 1262.5,880.7 1270.5,882.1 1278.5,882.4 1286.5,875.1 1294.5,862.3 1302.5,861.6 1310.5,865.3 1318.5,859.3 1326.5,863.4 1334.5,843.5" fill="none" stroke="#1E90FF" stroke-width="1" shape-rendering="crispEdges"/></g>
<g fill="#000"><rect x="1627" y="586" width="1" height="1"/><rect x="1627" y="661" width="2" height="1"/><rect x="1627" y="766" width="2" height="1"/><rect x="1627" y="771" width="2" height="1"/><rect x="1627" y="929" width="2" height="1"/></g>
<text x="1630.1" y="595" font-size="9.8" fill="#000" textLength="37.78" lengthAdjust="spacingAndGlyphs" style="font-family:'Liberation Sans',Arial,sans-serif"  stroke="#000" stroke-width="0.2">0.009379</text>
<text x="1629.9" y="665" font-size="9.8" fill="#000" textLength="18.27" lengthAdjust="spacingAndGlyphs" style="font-family:'Liberation Sans',Arial,sans-serif"  stroke="#000" stroke-width="0.2">0.00</text>
<text x="1629.9" y="764" font-size="9.8" fill="#000" textLength="41.22" lengthAdjust="spacingAndGlyphs" style="font-family:'Liberation Sans',Arial,sans-serif"  stroke="#000" stroke-width="0.2">-0.012977</text>
<text x="1629.63" y="780" font-size="9.8" fill="#000" textLength="15.81" lengthAdjust="spacingAndGlyphs" style="font-family:'Liberation Sans',Arial,sans-serif"  stroke="#000" stroke-width="0.2">100</text>
<text x="1629.2" y="806" font-size="9.8" fill="#000" textLength="9.72" lengthAdjust="spacingAndGlyphs" style="font-family:'Liberation Sans',Arial,sans-serif"  stroke="#000" stroke-width="0.2">80</text>
<text x="1629.0" y="853" font-size="9.8" fill="#000" textLength="9.91" lengthAdjust="spacingAndGlyphs" style="font-family:'Liberation Sans',Arial,sans-serif"  stroke="#000" stroke-width="0.2">50</text>
<text x="1628.55" y="909" font-size="9.8" fill="#000" textLength="10.36" lengthAdjust="spacingAndGlyphs" style="font-family:'Liberation Sans',Arial,sans-serif"  stroke="#000" stroke-width="0.2">15</text>
<text x="1630.0" y="926" font-size="9.8" fill="#000" textLength="5.67" lengthAdjust="spacingAndGlyphs" style="font-family:'Liberation Sans',Arial,sans-serif"  stroke="#000" stroke-width="0.2">0</text>
<g fill="#000"><rect x="-2" y="930" width="1" height="3"/><text x="-2.5" y="942" font-size="9.8" fill="#000" textLength="46.6" lengthAdjust="spacingAndGlyphs" style="font-family:'Liberation Sans',Arial,sans-serif"  stroke="#000" stroke-width="0.2">7 Feb 2019</text><rect x="62" y="930" width="1" height="3"/><text x="60.56" y="942" font-size="9.8" fill="#000" textLength="51.73" lengthAdjust="spacingAndGlyphs" style="font-family:'Liberation Sans',Arial,sans-serif"  stroke="#000" stroke-width="0.2">17 Feb 2019</text><rect x="126" y="930" width="1" height="3"/><text x="125.5" y="942" font-size="9.8" fill="#000" textLength="51.73" lengthAdjust="spacingAndGlyphs" style="font-family:'Liberation Sans',Arial,sans-serif"  stroke="#000" stroke-width="0.2">26 Feb 2019</text><rect x="190" y="930" width="1" height="3"/><text x="189.5" y="942" font-size="9.8" fill="#000" textLength="46.59" lengthAdjust="spacingAndGlyphs" style="font-family:'Liberation Sans',Arial,sans-serif"  stroke="#000" stroke-width="0.2">7 Mar 2019</text><rect x="254" y="930" width="1" height="3"/><text x="252.56" y="942" font-size="9.8" fill="#000" textLength="51.71" lengthAdjust="spacingAndGlyphs" style="font-family:'Liberation Sans',Arial,sans-serif"  stroke="#000" stroke-width="0.2">17 Mar 2019</text><rect x="318" y="930" width="1" height="3"/><text x="317.5" y="942" font-size="9.8" fill="#000" textLength="51.71" lengthAdjust="spacingAndGlyphs" style="font-family:'Liberation Sans',Arial,sans-serif"  stroke="#000" stroke-width="0.2">26 Mar 2019</text><rect x="382" y="930" width="1" height="3"/><text x="381.5" y="942" font-size="9.8" fill="#000" textLength="44.56" lengthAdjust="spacingAndGlyphs" style="font-family:'Liberation Sans',Arial,sans-serif"  stroke="#000" stroke-width="0.2">4 Apr 2019</text><rect x="446" y="930" width="1" height="3"/><text x="444.56" y="942" font-size="9.8" fill="#000" textLength="49.67" lengthAdjust="spacingAndGlyphs" style="font-family:'Liberation Sans',Arial,sans-serif"  stroke="#000" stroke-width="0.2">14 Apr 2019</text><rect x="510" y="930" width="1" height="3"/><text x="509.5" y="942" font-size="9.8" fill="#000" textLength="49.67" lengthAdjust="spacingAndGlyphs" style="font-family:'Liberation Sans',Arial,sans-serif"  stroke="#000" stroke-width="0.2">24 Apr 2019</text><rect x="574" y="930" width="1" height="3"/><text x="573.5" y="942" font-size="9.8" fill="#000" textLength="48.13" lengthAdjust="spacingAndGlyphs" style="font-family:'Liberation Sans',Arial,sans-serif"  stroke="#000" stroke-width="0.2">3 May 2019</text><rect x="638" y="930" width="1" height="3"/><text x="636.56" y="942" font-size="9.8" fill="#000" textLength="53.26" lengthAdjust="spacingAndGlyphs" style="font-family:'Liberation Sans',Arial,sans-serif"  stroke="#000" stroke-width="0.2">13 May 2019</text><rect x="702" y="930" width="1" height="3"/><text x="701.5" y="942" font-size="9.8" fill="#000" textLength="53.26" lengthAdjust="spacingAndGlyphs" style="font-family:'Liberation Sans',Arial,sans-serif"  stroke="#000" stroke-width="0.2">22 May 2019</text><rect x="766" y="930" width="1" height="3"/><text x="765.5" y="942" font-size="9.8" fill="#000" textLength="53.26" lengthAdjust="spacingAndGlyphs" style="font-family:'Liberation Sans',Arial,sans-serif"  stroke="#000" stroke-width="0.2">31 May 2019</text><rect x="830" y="930" width="1" height="3"/><text x="828.56" y="942" font-size="9.8" fill="#000" textLength="50.7" lengthAdjust="spacingAndGlyphs" style="font-family:'Liberation Sans',Arial,sans-serif"  stroke="#000" stroke-width="0.2">10 Jun 2019</text><rect x="894" y="930" width="1" height="3"/><text x="892.56" y="942" font-size="9.8" fill="#000" textLength="50.7" lengthAdjust="spacingAndGlyphs" style="font-family:'Liberation Sans',Arial,sans-serif"  stroke="#000" stroke-width="0.2">19 Jun 2019</text><rect x="958" y="930" width="1" height="3"/><text x="957.5" y="942" font-size="9.8" fill="#000" textLength="50.7" lengthAdjust="spacingAndGlyphs" style="font-family:'Liberation Sans',Arial,sans-serif"  stroke="#000" stroke-width="0.2">28 Jun 2019</text><rect x="1022" y="930" width="1" height="3"/><text x="1021.5" y="942" font-size="9.8" fill="#000" textLength="42.51" lengthAdjust="spacingAndGlyphs" style="font-family:'Liberation Sans',Arial,sans-serif"  stroke="#000" stroke-width="0.2">8 Jul 2019</text><rect x="1086" y="930" width="1" height="3"/><text x="1084.56" y="942" font-size="9.8" fill="#000" textLength="47.63" lengthAdjust="spacingAndGlyphs" style="font-family:'Liberation Sans',Arial,sans-serif"  stroke="#000" stroke-width="0.2">17 Jul 2019</text><rect x="1150" y="930" width="1" height="3"/><text x="1149.5" y="942" font-size="9.8" fill="#000" textLength="47.63" lengthAdjust="spacingAndGlyphs" style="font-family:'Liberation Sans',Arial,sans-serif"  stroke="#000" stroke-width="0.2">26 Jul 2019</text><rect x="1214" y="930" width="1" height="3"/><text x="1213.5" y="942" font-size="9.8" fill="#000" textLength="46.6" lengthAdjust="spacingAndGlyphs" style="font-family:'Liberation Sans',Arial,sans-serif"  stroke="#000" stroke-width="0.2">5 Aug 2019</text><rect x="1278" y="930" width="1" height="3"/><text x="1276.56" y="942" font-size="9.8" fill="#000" textLength="51.73" lengthAdjust="spacingAndGlyphs" style="font-family:'Liberation Sans',Arial,sans-serif"  stroke="#000" stroke-width="0.2">14 Aug 2019</text></g>
<polygon points="1,40 8,40 4.5,36" fill="#000"/>
<text x="13.3" y="41" font-size="9.8" fill="#000" textLength="67.04" lengthAdjust="spacingAndGlyphs" style="font-family:'Liberation Sans',Arial,sans-serif"  stroke="#000" stroke-width="0.2">GBPUSD-,Daily</text>
<text x="85.84" y="41" font-size="9.8" fill="#000" textLength="33.86" lengthAdjust="spacingAndGlyphs" style="font-family:'Liberation Sans',Arial,sans-serif"  stroke="#000" stroke-width="0.2">1.21300</text>
<text x="121.23" y="41" font-size="9.8" fill="#000" textLength="34.38" lengthAdjust="spacingAndGlyphs" style="font-family:'Liberation Sans',Arial,sans-serif"  stroke="#000" stroke-width="0.2">1.22716</text>
<text x="157.54" y="41" font-size="9.8" fill="#000" textLength="33.86" lengthAdjust="spacingAndGlyphs" style="font-family:'Liberation Sans',Arial,sans-serif"  stroke="#000" stroke-width="0.2">1.21076</text>
<text x="193.44" y="41" font-size="9.8" fill="#000" textLength="33.86" lengthAdjust="spacingAndGlyphs" style="font-family:'Liberation Sans',Arial,sans-serif"  stroke="#000" stroke-width="0.2">1.22468</text>
<text x="1.42" y="597" font-size="9.8" fill="#000" textLength="66.74" lengthAdjust="spacingAndGlyphs" style="font-family:'Liberation Sans',Arial,sans-serif"  stroke="#000" stroke-width="0.2">MACD(12,26,9)</text>
<text x="70.8" y="597" font-size="9.8" fill="#000" textLength="40.92" lengthAdjust="spacingAndGlyphs" style="font-family:'Liberation Sans',Arial,sans-serif"  stroke="#000" stroke-width="0.2">-0.005242</text>
<text x="114.8" y="597" font-size="9.8" fill="#000" textLength="41.42" lengthAdjust="spacingAndGlyphs" style="font-family:'Liberation Sans',Arial,sans-serif"  stroke="#000" stroke-width="0.2">-0.008766</text>
<text x="1.41" y="782" font-size="9.8" fill="#000" textLength="33.55" lengthAdjust="spacingAndGlyphs" style="font-family:'Liberation Sans',Arial,sans-serif"  stroke="#000" stroke-width="0.2">RSI(14)</text>
<text x="37.1" y="782" font-size="9.8" fill="#000" textLength="33.3" lengthAdjust="spacingAndGlyphs" style="font-family:'Liberation Sans',Arial,sans-serif"  stroke="#000" stroke-width="0.2">53.8167</text>
<text x="1301.69" y="419" font-size="31" fill="#000000" textLength="163.87" lengthAdjust="spacingAndGlyphs" style="font-family:'Noto Serif CJK SC','Noto Sans CJK SC',serif" transform="translate(1,1)" stroke="#000" stroke-width="0.5">多空转折点</text>
<text x="1301.69" y="419" font-size="31" fill="#00FF00" textLength="163.87" lengthAdjust="spacingAndGlyphs" style="font-family:'Noto Serif CJK SC','Noto Sans CJK SC',serif" stroke="#00FF00" stroke-width="0.5">多空转折点</text>
<rect x="1367" y="497" width="8" height="2" fill="#FF0000"/>
<rect x="1374.5" y="495.5" width="3" height="4" fill="#fff" stroke="#FF0000" stroke-width="1"/>
<rect x="1377.5" y="482.5" width="99" height="31" fill="#fff" stroke="#FF0000" stroke-width="1"/>
<text x="1378.01" y="508.6" font-size="27" fill="#FF0000" textLength="97.3" lengthAdjust="spacingAndGlyphs" style="font-family:'Liberation Sans',Arial,sans-serif" >1.22035</text>
</svg>
<div id="tb"><svg style="position:absolute;left:0;top:0" width="1673" height="25" viewBox="0 0 1673 25">
<defs>
<linearGradient id="tgGold" x1="0.2" y1="0.8" x2="0.8" y2="0.2"><stop offset="0" stop-color="#D89A10"/><stop offset="0.55" stop-color="#F2C830"/><stop offset="1" stop-color="#FFF0A0"/></linearGradient>
<linearGradient id="tgBlue" x1="0" y1="0" x2="0" y2="1"><stop offset="0" stop-color="#6FB8F0"/><stop offset="1" stop-color="#1E6FD0"/></linearGradient>
<radialGradient id="tgClock" cx="0.45" cy="0.4" r="0.6"><stop offset="0" stop-color="#fff"/><stop offset="0.55" stop-color="#E8F0FA"/><stop offset="0.6" stop-color="#3A88E0"/><stop offset="1" stop-color="#0D4FA8"/></radialGradient>
<linearGradient id="tgPlus" x1="0" y1="0" x2="1" y2="1"><stop offset="0" stop-color="#7CF07C"/><stop offset="0.5" stop-color="#14E014"/><stop offset="1" stop-color="#0CC00C"/></linearGradient><linearGradient id="tgCloud" x1="0" y1="0" x2="0" y2="1"><stop offset="0" stop-color="#FFFFFF"/><stop offset="1" stop-color="#B8C4DA"/></linearGradient><linearGradient id="tgYel" x1="0" y1="0" x2="1" y2="1"><stop offset="0" stop-color="#F4D040"/><stop offset="1" stop-color="#FFF490"/></linearGradient>
<pattern id="tgDots" width="2" height="2" patternUnits="userSpaceOnUse"><rect width="2" height="2" fill="#F4F4F4"/><rect width="1" height="1" fill="#FAFAFA"/></pattern>
</defs>
<rect width="1673" height="25" fill="#F0F0F0"/>
<!-- new order icon -->
<path d="M-3,5.5 H6 Q8.5,5.5 8.5,8 V18 H-3 Z" fill="#FAFAFA" stroke="#6A6A6A" stroke-width="1"/>
<circle cx="6.6" cy="7.6" r="0.7" fill="#fff"/>
<rect x="0" y="7.6" width="1.8" height="0.8" fill="#7A7A7A"/><rect x="0" y="13" width="4" height="0.8" fill="#8A8A8A"/>
<path d="M5,11.3 h4 v3.8 h4 v3.7 h-4 v4 h-4 v-4 h-4 v-3.7 h4 z" fill="url(#tgPlus)" stroke="#0A8A0A" stroke-width="0.9"/>
<!-- gold book -->
<path d="M64.5,15 L68.3,10 L70,6.2 L78.8,12.5 L79.6,15 L72,20.6 Z" fill="url(#tgGold)" stroke="#A86A10" stroke-width="0.9"/>
<path d="M65.6,15.2 L72.2,19.4" stroke="#FBEAA8" stroke-width="1.6"/>
<path d="M73.5,19.5 L79,15.2" stroke="#D8C890" stroke-width="1" stroke-dasharray="1 0.7"/>
<!-- blue box + cloud -->
<path d="M94,5.2 H103 L105,7 V14 H94 Z" fill="#0A8EEA" stroke="#1A70C8" stroke-width="0.6"/>
<path d="M94,5.2 L97,8.3 V14" stroke="#E8F6FF" stroke-width="0.8" fill="none"/>
<path d="M97,8.3 H105" stroke="#0060C0" stroke-width="0.6"/>
<rect x="99" y="10" width="4.5" height="1" fill="#D8F0FF"/>
<path d="M93.3,19.5 Q91.5,16.5 94.6,16 Q95.5,13.8 98.2,14.6 Q100.2,12.4 102.6,14.5 Q104.5,14 104.8,15.8 Q108.5,16.2 107.2,19.5 Q106.5,20.8 104,20.8 H95.5 Q93.8,20.8 93.3,19.5 Z" fill="url(#tgCloud)" stroke="#3A5A9A" stroke-width="0.9"/>
<!-- signal icon -->
<g fill="none" stroke-width="1" opacity="0.85">
<circle cx="128" cy="12.8" r="7.4" stroke="#86A8E0"/>
<circle cx="128" cy="12.8" r="4.6" stroke="#7C9ED8"/>
<path d="M135.3,13.5 A7.4,7.4 0 0 1 128.3,20.2" stroke="#3C9C3C" stroke-width="1.2"/>
<path d="M132.5,13.4 A4.6,4.6 0 0 1 128.5,17.4" stroke="#58AE58" stroke-width="1.1"/>
<path d="M134.6,9 A7.4,7.4 0 0 1 135.4,12" stroke="#7AB07A"/>
</g>
<circle cx="128" cy="12.8" r="1.7" fill="#2A5CCC"/>
<rect x="127.6" y="12.8" width="1.6" height="8" fill="#1FA01F"/>
<!-- auto trading -->
<path d="M147.6,12.2 L162,12.2 L156,20.5 L153.5,20.8 Z" fill="url(#tgYel)" stroke="#C8A020" stroke-width="0.8"/>
<ellipse cx="155" cy="9.8" rx="7.6" ry="2.6" fill="#6EC0EE" stroke="#2A86B8" stroke-width="0.8"/>
<path d="M150.8,9.5 Q151.5,5 155,5 Q158.5,5 159,9.5 Z" fill="#7ECAF0" stroke="#2A86B8" stroke-width="0.8"/>
<circle cx="159.3" cy="16.7" r="4.1" fill="#E01A00" stroke="#B01000" stroke-width="0.6"/>
<rect x="157.9" y="15.3" width="2.9" height="2.8" fill="#fff"/>
<!-- separators -->
<g fill="#A0A0A0">
<rect x="223" y="1" width="1" height="23"/><rect x="318" y="2" width="1" height="21"/><rect x="407" y="1" width="1" height="23"/>
<rect x="470" y="2" width="1" height="21"/><rect x="591" y="0" width="1" height="25"/><rect x="658" y="2" width="1" height="21"/>
<rect x="897" y="0" width="1" height="25"/><rect x="1158" y="0" width="1" height="25"/>
</g>
<g fill="#FFFFFF"><rect x="224" y="1" width="1" height="23"/><rect x="408" y="1" width="1" height="23"/><rect x="592" y="0" width="1" height="25"/><rect x="898" y="0" width="1" height="25"/><rect x="1159" y="0" width="1" height="25"/></g>
<!-- grips -->
<g fill="#A8A8A8">
<rect x="227" y="3" width="3" height="1"/><rect x="227" y="5" width="3" height="1"/><rect x="227" y="7" width="3" height="1"/><rect x="227" y="9" width="3" height="1"/><rect x="227" y="11" width="3" height="1"/><rect x="227" y="13" width="3" height="1"/><rect x="227" y="15" width="3" height="1"/><rect x="227" y="17" width="3" height="1"/><rect x="227" y="19" width="3" height="1"/><rect x="227" y="21" width="3" height="1"/>
<rect x="595" y="3" width="3" height="1"/><rect x="595" y="5" width="3" height="1"/><rect x="595" y="7" width="3" height="1"/><rect x="595" y="9" width="3" height="1"/><rect x="595" y="11" width="3" height="1"/><rect x="595" y="13" width="3" height="1"/><rect x="595" y="15" width="3" height="1"/><rect x="595" y="17" width="3" height="1"/><rect x="595" y="19" width="3" height="1"/><rect x="595" y="21" width="3" height="1"/>
<rect x="901" y="3" width="3" height="1"/><rect x="901" y="5" width="3" height="1"/><rect x="901" y="7" width="3" height="1"/><rect x="901" y="9" width="3" height="1"/><rect x="901" y="11" width="3" height="1"/><rect x="901" y="13" width="3" height="1"/><rect x="901" y="15" width="3" height="1"/><rect x="901" y="17" width="3" height="1"/><rect x="901" y="19" width="3" height="1"/><rect x="901" y="21" width="3" height="1"/>
</g>
<!-- pressed buttons -->
<rect x="262" y="2" width="24" height="21" fill="url(#tgDots)"/><rect x="261" y="1" width="25" height="1" fill="#A0A0A0"/><rect x="261" y="1" width="1" height="23" fill="#A0A0A0"/><rect x="286" y="1" width="1" height="23" fill="#FDFDFD"/><rect x="261" y="23" width="26" height="1" fill="#FDFDFD"/>
<rect x="414" y="2" width="24" height="21" fill="url(#tgDots)"/><rect x="413" y="1" width="25" height="1" fill="#A0A0A0"/><rect x="413" y="1" width="1" height="23" fill="#A0A0A0"/><rect x="438" y="1" width="1" height="23" fill="#FDFDFD"/><rect x="413" y="23" width="26" height="1" fill="#FDFDFD"/>
<rect x="442" y="2" width="24" height="21" fill="url(#tgDots)"/><rect x="441" y="1" width="25" height="1" fill="#A0A0A0"/><rect x="441" y="1" width="1" height="23" fill="#A0A0A0"/><rect x="466" y="1" width="1" height="23" fill="#FDFDFD"/><rect x="441" y="23" width="26" height="1" fill="#FDFDFD"/>
<rect x="602" y="2" width="24" height="21" fill="url(#tgDots)"/><rect x="601" y="1" width="25" height="1" fill="#A0A0A0"/><rect x="601" y="1" width="1" height="23" fill="#A0A0A0"/><rect x="626" y="1" width="1" height="23" fill="#FDFDFD"/><rect x="601" y="23" width="26" height="1" fill="#FDFDFD"/>
<rect x="1076" y="2" width="24" height="21" fill="url(#tgDots)"/><rect x="1075" y="1" width="25" height="1" fill="#A0A0A0"/><rect x="1075" y="1" width="1" height="23" fill="#A0A0A0"/><rect x="1100" y="1" width="1" height="23" fill="#FDFDFD"/><rect x="1075" y="23" width="26" height="1" fill="#FDFDFD"/>
<!-- chart axes icons -->
<path d="M241.5,8.5 V20.5 M239.0,19.5 H251.5" stroke="#505050" stroke-width="1" fill="none"/><path d="M239.5,9 L241.5,6 L243.5,9 Z M251.5,17.5 L254.5,19.5 L251.5,21.5 Z" fill="#505050"/><path d="M269.5,8.5 V20.5 M267.0,19.5 H279.5" stroke="#505050" stroke-width="1" fill="none"/><path d="M267.5,9 L269.5,6 L271.5,9 Z M279.5,17.5 L282.5,19.5 L279.5,21.5 Z" fill="#505050"/><path d="M297.5,8.5 V20.5 M295.0,19.5 H307.5" stroke="#505050" stroke-width="1" fill="none"/><path d="M295.5,9 L297.5,6 L299.5,9 Z M307.5,17.5 L310.5,19.5 L307.5,21.5 Z" fill="#505050"/><path d="M421.5,8.5 V20.5 M419.0,19.5 H431.5" stroke="#505050" stroke-width="1" fill="none"/><path d="M419.5,9 L421.5,6 L423.5,9 Z M431.5,17.5 L434.5,19.5 L431.5,21.5 Z" fill="#505050"/><path d="M449.5,8.5 V20.5 M447.0,19.5 H459.5" stroke="#505050" stroke-width="1" fill="none"/><path d="M447.5,9 L449.5,6 L451.5,9 Z M459.5,17.5 L462.5,19.5 L459.5,21.5 Z" fill="#505050"/>
<path d="M247.5,9.5 V16 M247.5,9.5 H250.5 M245,15.5 H247.5" stroke="#18A018" stroke-width="1.2" fill="none" stroke-linejoin="miter" stroke-linecap="square"/>
<rect x="273.5" y="7.5" width="4" height="8" fill="#30D030" stroke="#108010" stroke-width="1"/><rect x="275" y="5" width="1" height="13" fill="#108010"/>
<path d="M296,16 Q302,6 308,14" stroke="#20A020" stroke-width="1.2" fill="none"/>
<path d="M426.5,9.5 L431,12.5 L426.5,15.5 Z" fill="#30C030" stroke="#109010" stroke-width="0.8"/>
<rect x="455" y="7" width="1.3" height="10" fill="#1E60B8"/>
<path d="M461,12.5 H457.5 M459,10.5 L457,12.5 L459,14.5" stroke="#E04010" stroke-width="1.3" fill="none"/>
<!-- zoom icons -->
<g>
<path d="M337,15 L342,20" stroke="#C8A018" stroke-width="2.6" stroke-linecap="round"/>
<circle cx="332.5" cy="10.5" r="5.2" fill="#D8ECFA" stroke="#3A78D0" stroke-width="1.2"/>
<path d="M329.5,10.5 H335.5 M332.5,7.5 V13.5" stroke="#2060C0" stroke-width="1.8"/>
<path d="M365,15 L370,20" stroke="#C8A018" stroke-width="2.6" stroke-linecap="round"/>
<circle cx="360.5" cy="10.5" r="5.2" fill="#D8ECFA" stroke="#3A78D0" stroke-width="1.2"/>
<path d="M357.5,10.5 H363.5" stroke="#2060C0" stroke-width="1.8"/>
</g>
<!-- tile windows -->
<rect x="383" y="5" width="7.8" height="7.8" rx="1" fill="#2E9E12"/><rect x="384.2" y="7.8" width="5.6" height="3.8" fill="#FFFFFF"/><rect x="385" y="8.8" width="4" height="1" fill="#9AD48A"/><rect x="384.2" y="6" width="1" height="1" fill="#D0E8D0"/>
<rect x="391.2" y="5" width="7.8" height="7.8" rx="1" fill="#1C52D0"/><rect x="392.4" y="7.8" width="5.6" height="3.8" fill="#FFFFFF"/><rect x="393.2" y="8.8" width="4" height="1" fill="#8FAAE8"/><rect x="392.4" y="6" width="1" height="1" fill="#D0E8D0"/>
<rect x="383" y="12.8" width="7.8" height="7.8" rx="1" fill="#1C52D0"/><rect x="384.2" y="15.600000000000001" width="5.6" height="3.8" fill="#FFFFFF"/><rect x="385" y="16.6" width="4" height="1" fill="#8FAAE8"/><rect x="384.2" y="13.8" width="1" height="1" fill="#D0E8D0"/>
<rect x="391.2" y="12.8" width="7.8" height="7.8" rx="1" fill="#2E9E12"/><rect x="392.4" y="15.600000000000001" width="5.6" height="3.8" fill="#FFFFFF"/><rect x="393.2" y="16.6" width="4" height="1" fill="#9AD48A"/><rect x="392.4" y="13.8" width="1" height="1" fill="#D0E8D0"/>
<!-- new chart icon -->
<path d="M480.5,6 h6 l2.5,2.5 v9 h-8.5 z" fill="#FAFAFA" stroke="#808080" stroke-width="0.8"/>
<path d="M484.5,8 h6 l2.5,2.5 v8 h-8.5 z" fill="#FAFAFA" stroke="#808080" stroke-width="0.8"/>
<path d="M488.5,12.5 h3 v3 h3 v3 h-3 v3 h-3 v-3 h-3 v-3 h3 z" fill="#30D030" stroke="#109010" stroke-width="0.8"/>
<!-- dropdown arrows -->
<g fill="#000"><path d="M502,12 h5 l-2.5,3 z"/><path d="M541,12 h5 l-2.5,3 z"/><path d="M580,12 h5 l-2.5,3 z"/><path d="M885.5,12 h5 l-2.5,3 z"/></g>
<!-- clock -->
<circle cx="526" cy="13" r="7.8" fill="url(#tgClock)"/>
<circle cx="526" cy="13" r="7.8" fill="none" stroke="#0C4A9E" stroke-width="0.8"/>
<path d="M526,9 V13 H529" stroke="#333" stroke-width="1" fill="none"/>
<!-- templates icon -->
<rect x="557.5" y="6.5" width="15" height="13" fill="#FFFFFF" stroke="#2E60B8" stroke-width="1"/>
<rect x="558" y="7" width="14" height="2" fill="#5A88D0"/>
<rect x="558" y="13" width="14" height="1" fill="#2E60B8"/>
<path d="M559,12 L562,10.5 L565,11.5 L568,10 L571,10.5" stroke="#B03020" stroke-width="1" fill="none"/>
<path d="M559,17.5 L562,16 L565,17 L568,15 L571,16.5" stroke="#20A020" stroke-width="1" fill="none"/>
<!-- cursor -->
<path d="M609,6 L609,17 L611.5,14.5 L614,19.5 L616,18.5 L613.5,13.5 L617,13.5 Z" fill="#4A4A4A"/>
<!-- crosshair -->
<path d="M641.5,6 V21 M634,13.5 H649" stroke="#404040" stroke-width="1"/>
<rect x="641" y="13" width="1" height="1" fill="#F0F0F0"/>
<!-- line tools -->
<rect x="675" y="7" width="1" height="13" fill="#404040"/>
<rect x="698" y="13" width="12" height="1" fill="#404040"/>
<path d="M726,20 L738,8" stroke="#404040" stroke-width="1"/>
<path d="M752,13.5 L762,6 M753,17.5 L764,9 M756,19 L766,11.5" stroke="#404040" stroke-width="0.9"/>
<path d="M756,8 L756,17 M759,7 L759,16 M762,6 L762,14" stroke="#404040" stroke-width="0.8" stroke-dasharray="1 1"/>
<text x="762.5" y="22" font-family="'Liberation Sans',sans-serif" font-size="6.5" font-weight="bold" fill="#404040">E</text>
<g fill="#505050">
<rect x="781" y="6" width="11" height="1" opacity="0.9"/><rect x="781" y="9.5" width="11" height="1"/><rect x="781" y="13" width="11" height="1"/><rect x="781" y="17" width="9" height="1"/>
</g>
<g fill="#F0F0F0"><rect x="782" y="6" width="1" height="12"/><rect x="784" y="6" width="1" height="12"/><rect x="786" y="6" width="1" height="12"/><rect x="788" y="6" width="1" height="12"/><rect x="790" y="6" width="1" height="12"/></g>
<text x="790.5" y="22.5" font-family="'Liberation Sans',sans-serif" font-size="6.5" font-weight="bold" fill="#404040">F</text>
<text x="810.5" y="18" font-family="'Liberation Sans',sans-serif" font-size="12" font-weight="bold" fill="#505050">A</text>
<rect x="837" y="6" width="1" height="1" fill="#606060"/><rect x="837" y="19" width="1" height="1" fill="#606060"/><rect x="839" y="6" width="1" height="1" fill="#606060"/><rect x="839" y="19" width="1" height="1" fill="#606060"/><rect x="841" y="6" width="1" height="1" fill="#606060"/><rect x="841" y="19" width="1" height="1" fill="#606060"/><rect x="843" y="6" width="1" height="1" fill="#606060"/><rect x="843" y="19" width="1" height="1" fill="#606060"/><rect x="845" y="6" width="1" height="1" fill="#606060"/><rect x="845" y="19" width="1" height="1" fill="#606060"/><rect x="847" y="6" width="1" height="1" fill="#606060"/><rect x="847" y="19" width="1" height="1" fill="#606060"/><rect x="849" y="6" width="1" height="1" fill="#606060"/><rect x="849" y="19" width="1" height="1" fill="#606060"/><rect x="837" y="6" width="1" height="1" fill="#606060"/><rect x="849" y="6" width="1" height="1" fill="#606060"/><rect x="837" y="8" width="1" height="1" fill="#606060"/><rect x="849" y="8" width="1" height="1" fill="#606060"/><rect x="837" y="10" width="1" height="1" fill="#606060"/><rect x="849" y="10" width="1" height="1" fill="#606060"/><rect x="837" y="12" width="1" height="1" fill="#606060"/><rect x="849" y="12" width="1" height="1" fill="#606060"/><rect x="837" y="14" width="1" height="1" fill="#606060"/><rect x="849" y="14" width="1" height="1" fill="#606060"/><rect x="837" y="16" width="1" height="1" fill="#606060"/><rect x="849" y="16" width="1" height="1" fill="#606060"/><rect x="837" y="18" width="1" height="1" fill="#606060"/><rect x="849" y="18" width="1" height="1" fill="#606060"/><rect x="836" y="5" width="2" height="2" fill="#404040"/>
<text x="839.3" y="17.5" font-family="'Liberation Sans',sans-serif" font-size="11" font-weight="bold" fill="#505050">T</text>
<path d="M868,7 L871,10 L868,12 L865,10 Z M876,15 L879,18 L876,20.5 L873,18 Z" fill="#505050"/>
<path d="M867,14 L869.5,16.5 L874,11" stroke="#505050" stroke-width="1.2" fill="none"/>
<!-- timeframes -->
<!-- search + chat -->
<circle cx="1628.4" cy="10.5" r="3.8" fill="#F8F8FF" stroke="#1F56D0" stroke-width="1.3"/>
<path d="M1625.6,13.4 L1621.5,17.8" stroke="#1F56D0" stroke-width="2.2" stroke-linecap="round"/>
<ellipse cx="1661.5" cy="9.8" rx="6.3" ry="4.3" fill="#F2F2F6" stroke="#8C8C8C" stroke-width="0.9"/>
<path d="M1663,13.5 L1664.5,16.5 L1665.5,13" fill="#6C6C6C"/>
<ellipse cx="1652.3" cy="13.6" rx="4.8" ry="3.7" fill="#F2F2F6" stroke="#8C8C8C" stroke-width="0.9"/>
<path d="M1650,17 L1649.5,19.5 L1652.5,17.2" fill="#6C6C6C"/>
<text x="14.77" y="16" font-size="12" fill="#000" textLength="37.15" lengthAdjust="spacingAndGlyphs" style="font-family:'Liberation Sans','Noto Sans CJK SC','WenQuanYi Zen Hei',sans-serif" >新订单</text>
<text x="166.63" y="16" font-size="12" fill="#000" textLength="49.72" lengthAdjust="spacingAndGlyphs" style="font-family:'Liberation Sans','Noto Sans CJK SC','WenQuanYi Zen Hei',sans-serif" >自动交易</text>
<text x="910.88" y="17" font-size="9.8" fill="#3A3A3A" textLength="15.21" lengthAdjust="spacingAndGlyphs" style="font-family:'Liberation Sans',Arial,sans-serif" stroke="none">M1</text>
<text x="939.31" y="17" font-size="9.8" fill="#3A3A3A" textLength="14.87" lengthAdjust="spacingAndGlyphs" style="font-family:'Liberation Sans',Arial,sans-serif" stroke="none">M5</text>
<text x="965.92" y="17" font-size="9.8" fill="#3A3A3A" textLength="18.64" lengthAdjust="spacingAndGlyphs" style="font-family:'Liberation Sans',Arial,sans-serif" stroke="none">M15</text>
<text x="993.53" y="17" font-size="9.8" fill="#3A3A3A" textLength="18.53" lengthAdjust="spacingAndGlyphs" style="font-family:'Liberation Sans',Arial,sans-serif" stroke="none">M30</text>
<text x="1024.22" y="17" font-size="9.8" fill="#3A3A3A" textLength="13.56" lengthAdjust="spacingAndGlyphs" style="font-family:'Liberation Sans',Arial,sans-serif" stroke="none">H1</text>
<text x="1051.49" y="17" font-size="9.8" fill="#3A3A3A" textLength="13.9" lengthAdjust="spacingAndGlyphs" style="font-family:'Liberation Sans',Arial,sans-serif" stroke="none">H4</text>
<text x="1080.45" y="17" font-size="9.8" fill="#3A3A3A" textLength="13.1" lengthAdjust="spacingAndGlyphs" style="font-family:'Liberation Sans',Arial,sans-serif" stroke="none">D1</text>
<text x="1109.0" y="17" font-size="9.8" fill="#3A3A3A" textLength="14.91" lengthAdjust="spacingAndGlyphs" style="font-family:'Liberation Sans',Arial,sans-serif" stroke="none">W1</text>
<text x="1134.64" y="17" font-size="9.8" fill="#3A3A3A" textLength="16.12" lengthAdjust="spacingAndGlyphs" style="font-family:'Liberation Sans',Arial,sans-serif" stroke="none">MN</text>
</svg>
</div>
<div id="tbl0"></div><div id="tbl1"></div><div id="tbl2"></div>
<svg style="position:absolute;left:0;top:0" width="224" height="118" viewBox="0 0 224 118">
<defs>
<linearGradient id="gtab" x1="0" y1="49" x2="0" y2="113" gradientUnits="userSpaceOnUse">
<stop offset="0" stop-color="#F65656"/><stop offset="0.37" stop-color="#DE3030"/><stop offset="0.4" stop-color="#DC2C2C"/><stop offset="1" stop-color="#B20000"/>
</linearGradient>
<linearGradient id="gbtn" x1="0" y1="49" x2="0" y2="70" gradientUnits="userSpaceOnUse">
<stop offset="0" stop-color="#F2F2F2"/><stop offset="1" stop-color="#E2E2E2"/>
</linearGradient>
</defs>
<rect x="0" y="46" width="222" height="69" fill="#fff"/>
<path d="M1.5,49.5 H52.5 V73.5 H109.5 V112.5 H1.5 Z" fill="url(#gtab)" stroke="#C00000" stroke-width="1"/>
<path d="M168.5,49.5 H219.5 V112.5 H112.5 V73.5 H168.5 Z" fill="url(#gtab)" stroke="#C00000" stroke-width="1"/>
<rect x="5" y="72" width="44" height="1" fill="#8A0000"/><rect x="5" y="73" width="44" height="1" fill="#F08080"/>
<rect x="172" y="72" width="44" height="1" fill="#8A0000"/><rect x="172" y="73" width="44" height="1" fill="#F08080"/>
<rect x="55.5" y="49.5" width="110" height="21" fill="#fff" stroke="#A8A8A8"/>
<rect x="55.5" y="49.5" width="21" height="21" fill="url(#gbtn)" stroke="#A8A8A8"/>
<rect x="144.5" y="49.5" width="21" height="21" fill="url(#gbtn)" stroke="#A8A8A8"/>
<polygon points="62.5,58 68.5,58 65.5,61" fill="#000"/>
<polygon points="151.5,61.5 157.5,61.5 154.5,58.5" fill="#000"/>
<text x="12.38" y="65" font-size="12" fill="#FFE6E6" textLength="26.95" lengthAdjust="spacingAndGlyphs" style="font-family:'Liberation Sans',Arial,sans-serif" >SELL</text>
<text x="180.68" y="65" font-size="12" fill="#FFE6E6" textLength="25.12" lengthAdjust="spacingAndGlyphs" style="font-family:'Liberation Sans',Arial,sans-serif" >BUY</text>
<text x="116.89" y="64" font-size="12.5" fill="#111" textLength="24.66" lengthAdjust="spacingAndGlyphs" style="font-family:'Liberation Sans',Arial,sans-serif" >1.00</text>
<text x="20.72" y="104" font-size="13" font-weight="bold" fill="#fff" textLength="24.68" lengthAdjust="spacingAndGlyphs" style="font-family:'Liberation Sans',Arial,sans-serif" >1.22</text>
<text x="47.77" y="104.5" font-size="35.5" fill="#fff" textLength="36.72" lengthAdjust="spacingAndGlyphs" style="font-family:'Liberation Sans',Arial,sans-serif" >46</text>
<text x="88.2" y="87.7" font-size="11.5" font-weight="bold" fill="#fff" textLength="7.47" lengthAdjust="spacingAndGlyphs" style="font-family:'Liberation Sans',Arial,sans-serif" >8</text>
<text x="131.04" y="104" font-size="13" font-weight="bold" fill="#fff" textLength="24.26" lengthAdjust="spacingAndGlyphs" style="font-family:'Liberation Sans',Arial,sans-serif" >1.22</text>
<text x="160.3" y="104.5" font-size="35.5" fill="#fff" textLength="35.55" lengthAdjust="spacingAndGlyphs" style="font-family:'Liberation Sans',Arial,sans-serif" >50</text>
<text x="199.2" y="87.7" font-size="11.5" font-weight="bold" fill="#fff" textLength="7.47" lengthAdjust="spacingAndGlyphs" style="font-family:'Liberation Sans',Arial,sans-serif" >2</text>
</svg>

<div id="redge"></div>
</body></html>
